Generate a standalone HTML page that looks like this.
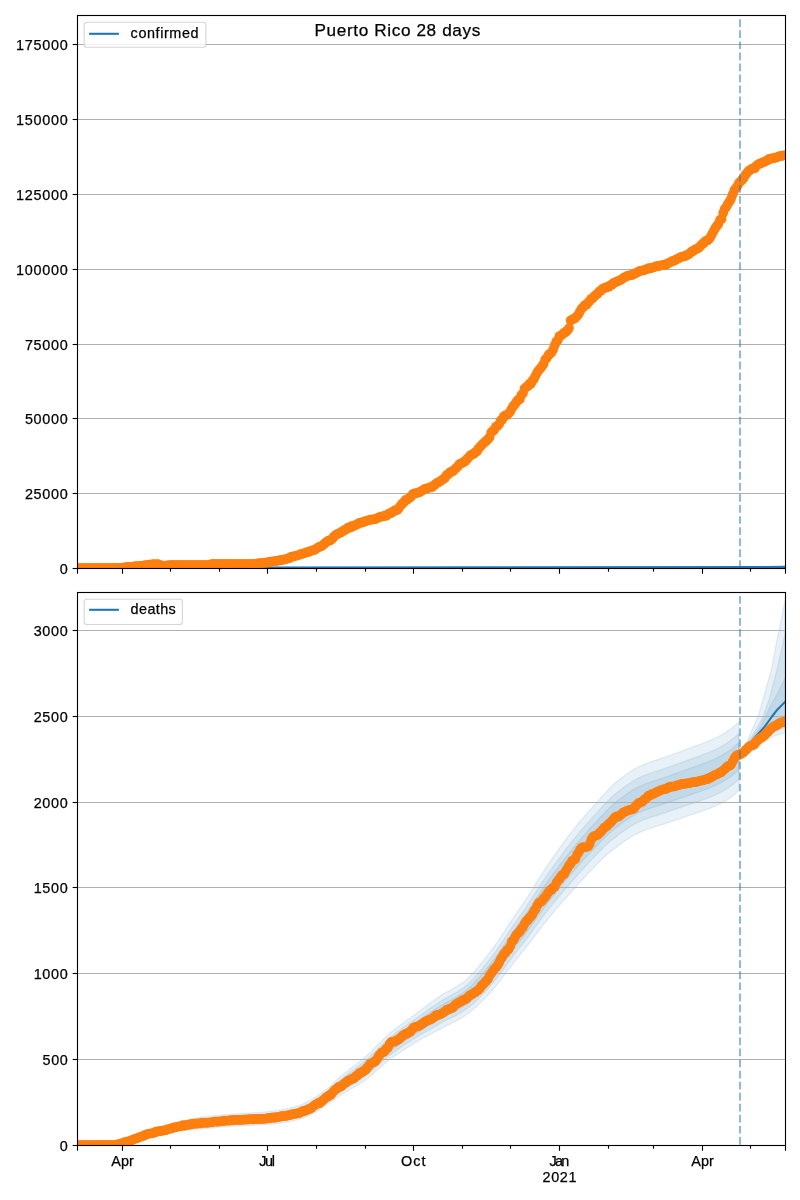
<!DOCTYPE html><html><head><meta charset="utf-8"><title>Puerto Rico 28 days</title><style>html,body{margin:0;padding:0;background:#fff;}body{width:800px;height:1200px;position:relative;overflow:hidden;font-family:"Liberation Sans",sans-serif;}</style></head><body><svg width="800" height="1200" viewBox="0 0 800 1200" style="display:block;position:absolute;left:0;top:0" font-family="Liberation Sans, sans-serif" font-size="14.4" fill="#000">
<defs>
<clipPath id="c1"><rect x="77.5" y="15.5" width="708.0" height="553.0"/></clipPath>
<clipPath id="c2"><rect x="77.5" y="592.5" width="708.0" height="553.0"/></clipPath>
<filter id="gs" x="0" y="0" width="800" height="1200" filterUnits="userSpaceOnUse" color-interpolation-filters="sRGB"><feColorMatrix type="saturate" values="0"/></filter>
</defs>
<rect width="800" height="1200" fill="#fff"/>
<g clip-path="url(#c2)" fill="#1f77b4" fill-opacity="0.1" stroke="#1f77b4" stroke-opacity="0.1" stroke-width="1.39" stroke-linejoin="round"><polygon points="77.5,1144.9 78.5,1144.9 79.5,1144.9 80.5,1144.9 81.5,1144.9 82.5,1144.9 83.5,1144.9 84.5,1144.9 85.5,1144.9 86.5,1144.9 87.5,1144.8 88.5,1144.8 89.5,1144.8 90.5,1144.8 91.5,1144.8 92.5,1144.8 93.5,1144.8 94.5,1144.8 95.5,1144.8 96.5,1144.8 97.5,1144.8 98.5,1144.8 99.5,1144.8 100.5,1144.8 101.5,1144.8 102.5,1144.8 103.5,1144.8 104.5,1144.8 105.5,1144.8 106.5,1144.7 107.5,1144.7 108.5,1144.7 109.5,1144.7 110.5,1144.7 111.5,1144.7 112.5,1144.7 113.5,1144.7 114.5,1144.6 115.5,1144.5 116.5,1144.3 117.5,1144.0 118.5,1143.7 119.5,1143.4 120.5,1143.1 121.5,1142.7 122.5,1142.3 123.5,1142.0 124.5,1141.6 125.5,1141.2 126.5,1140.9 127.5,1140.5 128.5,1140.1 129.5,1139.7 130.5,1139.3 131.5,1138.9 132.5,1138.5 133.5,1138.1 134.5,1137.6 135.5,1137.2 136.5,1136.8 137.5,1136.3 138.5,1135.9 139.5,1135.4 140.5,1135.0 141.5,1134.5 142.5,1134.1 143.5,1133.7 144.5,1133.3 145.5,1132.9 146.5,1132.5 147.5,1132.2 148.5,1131.8 149.5,1131.5 150.5,1131.1 151.5,1130.8 152.5,1130.4 153.5,1130.1 154.5,1129.7 155.5,1129.4 156.5,1129.1 157.5,1128.7 158.5,1128.4 159.5,1128.1 160.5,1127.8 161.5,1127.4 162.5,1127.1 163.5,1126.8 164.5,1126.5 165.5,1126.2 166.5,1125.9 167.5,1125.6 168.5,1125.3 169.5,1125.0 170.5,1124.7 171.5,1124.4 172.5,1124.1 173.5,1123.8 174.5,1123.5 175.5,1123.2 176.5,1122.9 177.5,1122.6 178.5,1122.3 179.5,1122.0 180.5,1121.8 181.5,1121.5 182.5,1121.2 183.5,1121.0 184.5,1120.7 185.5,1120.5 186.5,1120.2 187.5,1120.0 188.5,1119.8 189.5,1119.5 190.5,1119.3 191.5,1119.1 192.5,1118.9 193.5,1118.7 194.5,1118.5 195.5,1118.3 196.5,1118.0 197.5,1117.8 198.5,1117.7 199.5,1117.5 200.5,1117.3 201.5,1117.2 202.5,1117.0 203.5,1116.9 204.5,1116.8 205.5,1116.7 206.5,1116.6 207.5,1116.4 208.5,1116.3 209.5,1116.2 210.5,1116.1 211.5,1116.0 212.5,1115.9 213.5,1115.8 214.5,1115.7 215.5,1115.6 216.5,1115.5 217.5,1115.4 218.5,1115.3 219.5,1115.2 220.5,1115.1 221.5,1115.0 222.5,1114.9 223.5,1114.8 224.5,1114.7 225.5,1114.6 226.5,1114.5 227.5,1114.4 228.5,1114.4 229.5,1114.3 230.5,1114.2 231.5,1114.1 232.5,1114.0 233.5,1114.0 234.5,1113.9 235.5,1113.8 236.5,1113.8 237.5,1113.7 238.5,1113.6 239.5,1113.6 240.5,1113.5 241.5,1113.4 242.5,1113.4 243.5,1113.3 244.5,1113.3 245.5,1113.2 246.5,1113.1 247.5,1113.1 248.5,1113.0 249.5,1113.0 250.5,1112.9 251.5,1112.9 252.5,1112.8 253.5,1112.7 254.5,1112.7 255.5,1112.6 256.5,1112.6 257.5,1112.5 258.5,1112.5 259.5,1112.4 260.5,1112.3 261.5,1112.2 262.5,1112.1 263.5,1112.1 264.5,1112.0 265.5,1111.9 266.5,1111.8 267.5,1111.7 268.5,1111.5 269.5,1111.4 270.5,1111.3 271.5,1111.2 272.5,1111.1 273.5,1110.9 274.5,1110.8 275.5,1110.7 276.5,1110.5 277.5,1110.4 278.5,1110.2 279.5,1110.0 280.5,1109.9 281.5,1109.7 282.5,1109.5 283.5,1109.3 284.5,1109.1 285.5,1108.9 286.5,1108.7 287.5,1108.5 288.5,1108.3 289.5,1108.1 290.5,1107.8 291.5,1107.6 292.5,1107.3 293.5,1107.1 294.5,1106.8 295.5,1106.5 296.5,1106.2 297.5,1105.9 298.5,1105.6 299.5,1105.2 300.5,1104.9 301.5,1104.5 302.5,1104.0 303.5,1103.6 304.5,1103.1 305.5,1102.6 306.5,1102.1 307.5,1101.6 308.5,1101.0 309.5,1100.5 310.5,1099.9 311.5,1099.3 312.5,1098.7 313.5,1098.1 314.5,1097.5 315.5,1096.9 316.5,1096.2 317.5,1095.6 318.5,1094.9 319.5,1094.2 320.5,1093.5 321.5,1092.8 322.5,1092.1 323.5,1091.3 324.5,1090.6 325.5,1089.8 326.5,1089.0 327.5,1088.2 328.5,1087.4 329.5,1086.5 330.5,1085.7 331.5,1084.7 332.5,1083.8 333.5,1082.9 334.5,1082.0 335.5,1081.0 336.5,1080.1 337.5,1079.2 338.5,1078.3 339.5,1077.5 340.5,1076.6 341.5,1075.8 342.5,1074.9 343.5,1074.1 344.5,1073.3 345.5,1072.5 346.5,1071.7 347.5,1071.0 348.5,1070.2 349.5,1069.4 350.5,1068.6 351.5,1067.9 352.5,1067.1 353.5,1066.3 354.5,1065.6 355.5,1064.8 356.5,1064.0 357.5,1063.2 358.5,1062.4 359.5,1061.6 360.5,1060.8 361.5,1060.0 362.5,1059.1 363.5,1058.3 364.5,1057.4 365.5,1056.5 366.5,1055.7 367.5,1054.8 368.5,1053.8 369.5,1052.9 370.5,1052.0 371.5,1051.0 372.5,1050.0 373.5,1049.0 374.5,1048.0 375.5,1047.0 376.5,1046.0 377.5,1045.0 378.5,1044.0 379.5,1043.0 380.5,1042.0 381.5,1041.0 382.5,1040.0 383.5,1039.0 384.5,1038.0 385.5,1037.1 386.5,1036.2 387.5,1035.2 388.5,1034.3 389.5,1033.5 390.5,1032.6 391.5,1031.8 392.5,1031.0 393.5,1030.2 394.5,1029.4 395.5,1028.6 396.5,1027.9 397.5,1027.1 398.5,1026.3 399.5,1025.6 400.5,1024.9 401.5,1024.1 402.5,1023.4 403.5,1022.7 404.5,1021.9 405.5,1021.2 406.5,1020.5 407.5,1019.8 408.5,1019.1 409.5,1018.4 410.5,1017.7 411.5,1017.0 412.5,1016.3 413.5,1015.6 414.5,1014.9 415.5,1014.1 416.5,1013.4 417.5,1012.6 418.5,1011.8 419.5,1011.1 420.5,1010.3 421.5,1009.5 422.5,1008.8 423.5,1008.0 424.5,1007.3 425.5,1006.5 426.5,1005.8 427.5,1005.0 428.5,1004.3 429.5,1003.6 430.5,1002.8 431.5,1002.1 432.5,1001.4 433.5,1000.6 434.5,999.9 435.5,999.2 436.5,998.5 437.5,997.8 438.5,997.1 439.5,996.4 440.5,995.7 441.5,995.1 442.5,994.5 443.5,993.9 444.5,993.3 445.5,992.7 446.5,992.2 447.5,991.6 448.5,991.1 449.5,990.5 450.5,990.0 451.5,989.4 452.5,988.9 453.5,988.3 454.5,987.7 455.5,987.2 456.5,986.6 457.5,986.0 458.5,985.4 459.5,984.7 460.5,984.1 461.5,983.4 462.5,982.7 463.5,982.0 464.5,981.3 465.5,980.5 466.5,979.6 467.5,978.6 468.5,977.7 469.5,976.7 470.5,975.7 471.5,974.6 472.5,973.6 473.5,972.5 474.5,971.3 475.5,970.2 476.5,969.0 477.5,967.9 478.5,966.7 479.5,965.5 480.5,964.2 481.5,963.0 482.5,961.7 483.5,960.5 484.5,959.2 485.5,957.9 486.5,956.6 487.5,955.3 488.5,954.0 489.5,952.7 490.5,951.4 491.5,950.1 492.5,948.8 493.5,947.4 494.5,946.0 495.5,944.6 496.5,943.2 497.5,941.7 498.5,940.2 499.5,938.8 500.5,937.3 501.5,935.8 502.5,934.2 503.5,932.7 504.5,931.2 505.5,929.6 506.5,928.1 507.5,926.6 508.5,925.0 509.5,923.5 510.5,922.0 511.5,920.5 512.5,919.0 513.5,917.5 514.5,916.0 515.5,914.5 516.5,913.1 517.5,911.6 518.5,910.1 519.5,908.7 520.5,907.2 521.5,905.8 522.5,904.3 523.5,902.8 524.5,901.4 525.5,899.9 526.5,898.4 527.5,896.9 528.5,895.3 529.5,893.7 530.5,892.2 531.5,890.6 532.5,889.0 533.5,887.4 534.5,885.7 535.5,884.1 536.5,882.5 537.5,880.9 538.5,879.2 539.5,877.6 540.5,876.0 541.5,874.5 542.5,872.9 543.5,871.3 544.5,869.8 545.5,868.3 546.5,866.8 547.5,865.3 548.5,863.8 549.5,862.4 550.5,860.9 551.5,859.5 552.5,858.0 553.5,856.6 554.5,855.2 555.5,853.7 556.5,852.3 557.5,850.9 558.5,849.5 559.5,848.1 560.5,846.7 561.5,845.3 562.5,844.0 563.5,842.6 564.5,841.2 565.5,839.9 566.5,838.5 567.5,837.2 568.5,835.8 569.5,834.5 570.5,833.2 571.5,831.9 572.5,830.7 573.5,829.4 574.5,828.2 575.5,827.0 576.5,825.7 577.5,824.5 578.5,823.3 579.5,822.1 580.5,820.9 581.5,819.7 582.5,818.5 583.5,817.4 584.5,816.2 585.5,815.0 586.5,813.9 587.5,812.7 588.5,811.6 589.5,810.4 590.5,809.3 591.5,808.2 592.5,807.1 593.5,805.9 594.5,804.8 595.5,803.7 596.5,802.5 597.5,801.4 598.5,800.3 599.5,799.2 600.5,798.1 601.5,797.0 602.5,795.9 603.5,794.8 604.5,793.8 605.5,792.7 606.5,791.7 607.5,790.6 608.5,789.5 609.5,788.5 610.5,787.4 611.5,786.4 612.5,785.4 613.5,784.5 614.5,783.5 615.5,782.6 616.5,781.8 617.5,781.0 618.5,780.2 619.5,779.4 620.5,778.7 621.5,777.9 622.5,777.2 623.5,776.4 624.5,775.7 625.5,775.0 626.5,774.3 627.5,773.6 628.5,772.9 629.5,772.2 630.5,771.6 631.5,770.9 632.5,770.3 633.5,769.7 634.5,769.1 635.5,768.5 636.5,768.0 637.5,767.4 638.5,766.9 639.5,766.4 640.5,766.0 641.5,765.5 642.5,765.1 643.5,764.6 644.5,764.2 645.5,763.8 646.5,763.4 647.5,763.1 648.5,762.7 649.5,762.3 650.5,762.0 651.5,761.6 652.5,761.3 653.5,761.0 654.5,760.6 655.5,760.3 656.5,760.0 657.5,759.6 658.5,759.3 659.5,759.0 660.5,758.6 661.5,758.3 662.5,758.0 663.5,757.6 664.5,757.3 665.5,756.9 666.5,756.5 667.5,756.2 668.5,755.8 669.5,755.5 670.5,755.1 671.5,754.7 672.5,754.4 673.5,754.0 674.5,753.7 675.5,753.3 676.5,752.9 677.5,752.6 678.5,752.2 679.5,751.9 680.5,751.5 681.5,751.1 682.5,750.8 683.5,750.4 684.5,750.0 685.5,749.7 686.5,749.3 687.5,748.9 688.5,748.6 689.5,748.2 690.5,747.8 691.5,747.4 692.5,747.1 693.5,746.7 694.5,746.3 695.5,746.0 696.5,745.6 697.5,745.2 698.5,744.9 699.5,744.5 700.5,744.1 701.5,743.8 702.5,743.4 703.5,743.0 704.5,742.6 705.5,742.2 706.5,741.8 707.5,741.4 708.5,741.0 709.5,740.6 710.5,740.2 711.5,739.8 712.5,739.3 713.5,738.9 714.5,738.4 715.5,737.9 716.5,737.5 717.5,737.0 718.5,736.4 719.5,735.9 720.5,735.4 721.5,734.8 722.5,734.3 723.5,733.7 724.5,733.1 725.5,732.4 726.5,731.8 727.5,731.1 728.5,730.4 729.5,729.7 730.5,729.0 731.5,728.2 732.5,727.4 733.5,726.6 734.5,725.8 735.5,724.9 736.5,723.9 737.5,723.0 739.0,722.0 739.0,790.8 737.5,791.7 736.5,792.6 735.5,793.6 734.5,794.4 733.5,795.2 732.5,796.0 731.5,796.8 730.5,797.5 729.5,798.2 728.5,798.9 727.5,799.6 726.5,800.2 725.5,800.8 724.5,801.4 723.5,802.0 722.5,802.5 721.5,803.1 720.5,803.6 719.5,804.1 718.5,804.6 717.5,805.1 716.5,805.6 715.5,806.0 714.5,806.4 713.5,806.9 712.5,807.3 711.5,807.7 710.5,808.1 709.5,808.5 708.5,808.9 707.5,809.3 706.5,809.6 705.5,810.0 704.5,810.3 703.5,810.7 702.5,811.0 701.5,811.4 700.5,811.7 699.5,812.1 698.5,812.4 697.5,812.7 696.5,813.1 695.5,813.4 694.5,813.7 693.5,814.1 692.5,814.4 691.5,814.8 690.5,815.1 689.5,815.4 688.5,815.8 687.5,816.1 686.5,816.5 685.5,816.8 684.5,817.2 683.5,817.5 682.5,817.8 681.5,818.2 680.5,818.5 679.5,818.9 678.5,819.2 677.5,819.5 676.5,819.9 675.5,820.2 674.5,820.5 673.5,820.9 672.5,821.2 671.5,821.5 670.5,821.9 669.5,822.2 668.5,822.5 667.5,822.9 666.5,823.2 665.5,823.5 664.5,823.9 663.5,824.2 662.5,824.5 661.5,824.8 660.5,825.1 659.5,825.5 658.5,825.8 657.5,826.1 656.5,826.4 655.5,826.7 654.5,827.0 653.5,827.3 652.5,827.6 651.5,827.9 650.5,828.2 649.5,828.6 648.5,828.9 647.5,829.2 646.5,829.6 645.5,829.9 644.5,830.3 643.5,830.7 642.5,831.1 641.5,831.5 640.5,832.0 639.5,832.4 638.5,832.9 637.5,833.4 636.5,833.9 635.5,834.4 634.5,834.9 633.5,835.5 632.5,836.1 631.5,836.7 630.5,837.3 629.5,837.9 628.5,838.5 627.5,839.2 626.5,839.9 625.5,840.6 624.5,841.3 623.5,842.0 622.5,842.7 621.5,843.4 620.5,844.1 619.5,844.9 618.5,845.6 617.5,846.4 616.5,847.2 615.5,848.0 614.5,848.7 613.5,849.4 612.5,850.1 611.5,850.9 610.5,851.7 609.5,852.5 608.5,853.3 607.5,854.1 606.5,855.0 605.5,855.9 604.5,856.9 603.5,857.8 602.5,858.8 601.5,859.8 600.5,860.8 599.5,861.8 598.5,862.8 597.5,863.8 596.5,864.9 595.5,865.9 594.5,866.9 593.5,867.9 592.5,869.0 591.5,870.0 590.5,871.0 589.5,872.1 588.5,873.1 587.5,874.1 586.5,875.2 585.5,876.2 584.5,877.3 583.5,878.4 582.5,879.5 581.5,880.5 580.5,881.6 579.5,882.7 578.5,883.8 577.5,884.9 576.5,886.1 575.5,887.2 574.5,888.3 573.5,889.5 572.5,890.6 571.5,891.7 570.5,892.9 569.5,894.0 568.5,895.1 567.5,896.2 566.5,897.3 565.5,898.4 564.5,899.6 563.5,900.7 562.5,901.8 561.5,903.0 560.5,904.1 559.5,905.2 558.5,906.4 557.5,907.6 556.5,908.7 555.5,909.9 554.5,911.1 553.5,912.3 552.5,913.5 551.5,914.7 550.5,915.9 549.5,917.1 548.5,918.3 547.5,919.5 546.5,920.8 545.5,922.0 544.5,923.3 543.5,924.5 542.5,925.8 541.5,927.1 540.5,928.4 539.5,929.7 538.5,931.1 537.5,932.4 536.5,933.7 535.5,935.1 534.5,936.4 533.5,937.8 532.5,939.1 531.5,940.4 530.5,941.8 529.5,943.1 528.5,944.3 527.5,945.6 526.5,946.9 525.5,948.2 524.5,949.4 523.5,950.6 522.5,951.9 521.5,953.1 520.5,954.3 519.5,955.6 518.5,956.8 517.5,958.0 516.5,959.2 515.5,960.5 514.5,961.7 513.5,963.0 512.5,964.3 511.5,965.6 510.5,966.9 509.5,968.3 508.5,969.6 507.5,970.9 506.5,972.3 505.5,973.6 504.5,975.0 503.5,976.3 502.5,977.6 501.5,978.9 500.5,980.3 499.5,981.6 498.5,982.9 497.5,984.1 496.5,985.4 495.5,986.6 494.5,987.8 493.5,989.0 492.5,990.2 491.5,991.3 490.5,992.5 489.5,993.6 488.5,994.6 487.5,995.7 486.5,996.7 485.5,997.8 484.5,998.8 483.5,999.8 482.5,1000.8 481.5,1001.8 480.5,1002.8 479.5,1003.8 478.5,1004.8 477.5,1005.7 476.5,1006.6 475.5,1007.5 474.5,1008.4 473.5,1009.3 472.5,1010.1 471.5,1011.0 470.5,1011.8 469.5,1012.5 468.5,1013.3 467.5,1014.0 466.5,1014.6 465.5,1015.3 464.5,1015.9 463.5,1016.6 462.5,1017.3 461.5,1017.9 460.5,1018.5 459.5,1019.1 458.5,1019.7 457.5,1020.2 456.5,1020.8 455.5,1021.3 454.5,1021.8 453.5,1022.3 452.5,1022.8 451.5,1023.3 450.5,1023.8 449.5,1024.3 448.5,1024.8 447.5,1025.2 446.5,1025.7 445.5,1026.2 444.5,1026.7 443.5,1027.3 442.5,1027.8 441.5,1028.3 440.5,1028.9 439.5,1029.4 438.5,1029.9 437.5,1030.4 436.5,1031.0 435.5,1031.5 434.5,1032.0 433.5,1032.5 432.5,1033.1 431.5,1033.6 430.5,1034.1 429.5,1034.7 428.5,1035.2 427.5,1035.8 426.5,1036.3 425.5,1036.9 424.5,1037.4 423.5,1038.0 422.5,1038.5 421.5,1039.1 420.5,1039.7 419.5,1040.2 418.5,1040.8 417.5,1041.3 416.5,1041.9 415.5,1042.5 414.5,1043.1 413.5,1043.7 412.5,1044.3 411.5,1045.0 410.5,1045.6 409.5,1046.2 408.5,1046.9 407.5,1047.5 406.5,1048.1 405.5,1048.8 404.5,1049.4 403.5,1050.0 402.5,1050.7 401.5,1051.3 400.5,1052.0 399.5,1052.7 398.5,1053.3 397.5,1054.0 396.5,1054.7 395.5,1055.4 394.5,1056.1 393.5,1056.8 392.5,1057.5 391.5,1058.2 390.5,1059.0 389.5,1059.7 388.5,1060.5 387.5,1061.3 386.5,1062.1 385.5,1062.9 384.5,1063.7 383.5,1064.6 382.5,1065.4 381.5,1066.3 380.5,1067.2 379.5,1068.1 378.5,1069.0 377.5,1069.9 376.5,1070.8 375.5,1071.6 374.5,1072.5 373.5,1073.4 372.5,1074.3 371.5,1075.2 370.5,1076.0 369.5,1076.8 368.5,1077.7 367.5,1078.5 366.5,1079.2 365.5,1080.0 364.5,1080.7 363.5,1081.4 362.5,1082.0 361.5,1082.7 360.5,1083.3 359.5,1084.0 358.5,1084.6 357.5,1085.2 356.5,1085.8 355.5,1086.3 354.5,1086.9 353.5,1087.5 352.5,1088.1 351.5,1088.6 350.5,1089.2 349.5,1089.8 348.5,1090.4 347.5,1090.9 346.5,1091.5 345.5,1092.1 344.5,1092.7 343.5,1093.3 342.5,1094.0 341.5,1094.6 340.5,1095.2 339.5,1095.9 338.5,1096.6 337.5,1097.3 336.5,1098.0 335.5,1098.7 334.5,1099.4 333.5,1100.2 332.5,1100.9 331.5,1101.6 330.5,1102.3 329.5,1103.1 328.5,1103.8 327.5,1104.6 326.5,1105.3 325.5,1106.0 324.5,1106.7 323.5,1107.3 322.5,1108.0 321.5,1108.6 320.5,1109.3 319.5,1109.9 318.5,1110.5 317.5,1111.1 316.5,1111.7 315.5,1112.2 314.5,1112.8 313.5,1113.3 312.5,1113.8 311.5,1114.3 310.5,1114.8 309.5,1115.3 308.5,1115.8 307.5,1116.2 306.5,1116.7 305.5,1117.1 304.5,1117.5 303.5,1117.9 302.5,1118.3 301.5,1118.6 300.5,1118.9 299.5,1119.3 298.5,1119.6 297.5,1119.9 296.5,1120.1 295.5,1120.4 294.5,1120.6 293.5,1120.9 292.5,1121.1 291.5,1121.3 290.5,1121.5 289.5,1121.7 288.5,1121.9 287.5,1122.1 286.5,1122.3 285.5,1122.5 284.5,1122.6 283.5,1122.8 282.5,1123.0 281.5,1123.1 280.5,1123.2 279.5,1123.4 278.5,1123.5 277.5,1123.6 276.5,1123.7 275.5,1123.9 274.5,1124.0 273.5,1124.1 272.5,1124.2 271.5,1124.3 270.5,1124.3 269.5,1124.4 268.5,1124.5 267.5,1124.6 266.5,1124.7 265.5,1124.7 264.5,1124.8 263.5,1124.9 262.5,1124.9 261.5,1125.0 260.5,1125.0 259.5,1125.1 258.5,1125.1 257.5,1125.1 256.5,1125.2 255.5,1125.2 254.5,1125.3 253.5,1125.3 252.5,1125.4 251.5,1125.4 250.5,1125.4 249.5,1125.5 248.5,1125.5 247.5,1125.6 246.5,1125.6 245.5,1125.6 244.5,1125.7 243.5,1125.7 242.5,1125.8 241.5,1125.8 240.5,1125.9 239.5,1125.9 238.5,1126.0 237.5,1126.0 236.5,1126.0 235.5,1126.1 234.5,1126.2 233.5,1126.2 232.5,1126.3 231.5,1126.3 230.5,1126.4 229.5,1126.5 228.5,1126.5 227.5,1126.6 226.5,1126.7 225.5,1126.7 224.5,1126.8 223.5,1126.9 222.5,1127.0 221.5,1127.0 220.5,1127.1 219.5,1127.2 218.5,1127.3 217.5,1127.4 216.5,1127.4 215.5,1127.5 214.5,1127.6 213.5,1127.7 212.5,1127.8 211.5,1127.9 210.5,1128.0 209.5,1128.1 208.5,1128.2 207.5,1128.3 206.5,1128.4 205.5,1128.5 204.5,1128.6 203.5,1128.7 202.5,1128.8 201.5,1128.9 200.5,1129.0 199.5,1129.1 198.5,1129.1 197.5,1129.2 196.5,1129.3 195.5,1129.3 194.5,1129.4 193.5,1129.5 192.5,1129.6 191.5,1129.6 190.5,1129.7 189.5,1129.8 188.5,1129.9 187.5,1130.0 186.5,1130.1 185.5,1130.2 184.5,1130.3 183.5,1130.4 182.5,1130.5 181.5,1130.7 180.5,1130.8 179.5,1130.9 178.5,1131.1 177.5,1131.2 176.5,1131.4 175.5,1131.6 174.5,1131.7 173.5,1131.9 172.5,1132.0 171.5,1132.2 170.5,1132.4 169.5,1132.5 168.5,1132.7 167.5,1132.9 166.5,1133.0 165.5,1133.2 164.5,1133.4 163.5,1133.5 162.5,1133.7 161.5,1133.9 160.5,1134.1 159.5,1134.3 158.5,1134.4 157.5,1134.6 156.5,1134.8 155.5,1135.0 154.5,1135.2 153.5,1135.4 152.5,1135.6 151.5,1135.8 150.5,1136.1 149.5,1136.3 148.5,1136.5 147.5,1136.8 146.5,1137.0 145.5,1137.3 144.5,1137.6 143.5,1137.9 142.5,1138.2 141.5,1138.5 140.5,1138.8 139.5,1139.1 138.5,1139.5 137.5,1139.8 136.5,1140.1 135.5,1140.5 134.5,1140.8 133.5,1141.1 132.5,1141.4 131.5,1141.7 130.5,1142.0 129.5,1142.3 128.5,1142.6 127.5,1142.9 126.5,1143.1 125.5,1143.4 124.5,1143.7 123.5,1143.9 122.5,1144.2 121.5,1144.4 120.5,1144.6 119.5,1144.9 118.5,1145.1 117.5,1145.3 116.5,1145.4 115.5,1145.5 114.5,1145.6 113.5,1145.6 112.5,1145.7 111.5,1145.7 110.5,1145.7 109.5,1145.6 108.5,1145.6 107.5,1145.6 106.5,1145.6 105.5,1145.6 104.5,1145.6 103.5,1145.6 102.5,1145.6 101.5,1145.6 100.5,1145.6 99.5,1145.6 98.5,1145.6 97.5,1145.6 96.5,1145.6 95.5,1145.6 94.5,1145.6 93.5,1145.6 92.5,1145.6 91.5,1145.6 90.5,1145.6 89.5,1145.5 88.5,1145.5 87.5,1145.5 86.5,1145.5 85.5,1145.5 84.5,1145.5 83.5,1145.5 82.5,1145.5 81.5,1145.5 80.5,1145.5 79.5,1145.5 78.5,1145.5 77.5,1145.5"/><polygon points="77.5,1145.0 78.5,1145.0 79.5,1145.0 80.5,1145.0 81.5,1145.0 82.5,1145.0 83.5,1145.0 84.5,1145.0 85.5,1145.0 86.5,1145.0 87.5,1145.0 88.5,1145.0 89.5,1145.0 90.5,1145.0 91.5,1144.9 92.5,1144.9 93.5,1144.9 94.5,1144.9 95.5,1144.9 96.5,1144.9 97.5,1144.9 98.5,1144.9 99.5,1144.9 100.5,1144.9 101.5,1144.9 102.5,1144.9 103.5,1144.9 104.5,1144.9 105.5,1144.9 106.5,1144.9 107.5,1144.9 108.5,1144.9 109.5,1144.9 110.5,1144.9 111.5,1144.9 112.5,1144.9 113.5,1144.8 114.5,1144.8 115.5,1144.6 116.5,1144.5 117.5,1144.2 118.5,1144.0 119.5,1143.7 120.5,1143.3 121.5,1143.0 122.5,1142.7 123.5,1142.3 124.5,1142.0 125.5,1141.6 126.5,1141.3 127.5,1140.9 128.5,1140.5 129.5,1140.1 130.5,1139.8 131.5,1139.4 132.5,1139.0 133.5,1138.6 134.5,1138.2 135.5,1137.8 136.5,1137.3 137.5,1136.9 138.5,1136.5 139.5,1136.1 140.5,1135.6 141.5,1135.2 142.5,1134.8 143.5,1134.4 144.5,1134.0 145.5,1133.7 146.5,1133.3 147.5,1133.0 148.5,1132.6 149.5,1132.3 150.5,1132.0 151.5,1131.6 152.5,1131.3 153.5,1131.0 154.5,1130.7 155.5,1130.3 156.5,1130.0 157.5,1129.7 158.5,1129.4 159.5,1129.1 160.5,1128.8 161.5,1128.5 162.5,1128.2 163.5,1128.0 164.5,1127.7 165.5,1127.4 166.5,1127.1 167.5,1126.8 168.5,1126.6 169.5,1126.3 170.5,1126.0 171.5,1125.7 172.5,1125.4 173.5,1125.2 174.5,1124.9 175.5,1124.6 176.5,1124.3 177.5,1124.1 178.5,1123.8 179.5,1123.5 180.5,1123.3 181.5,1123.1 182.5,1122.8 183.5,1122.6 184.5,1122.4 185.5,1122.1 186.5,1121.9 187.5,1121.7 188.5,1121.5 189.5,1121.3 190.5,1121.1 191.5,1120.9 192.5,1120.7 193.5,1120.5 194.5,1120.3 195.5,1120.1 196.5,1119.9 197.5,1119.8 198.5,1119.6 199.5,1119.4 200.5,1119.3 201.5,1119.1 202.5,1119.0 203.5,1118.9 204.5,1118.8 205.5,1118.7 206.5,1118.6 207.5,1118.4 208.5,1118.3 209.5,1118.2 210.5,1118.1 211.5,1118.0 212.5,1117.9 213.5,1117.8 214.5,1117.7 215.5,1117.6 216.5,1117.5 217.5,1117.4 218.5,1117.3 219.5,1117.2 220.5,1117.1 221.5,1117.0 222.5,1116.9 223.5,1116.8 224.5,1116.8 225.5,1116.7 226.5,1116.6 227.5,1116.5 228.5,1116.4 229.5,1116.3 230.5,1116.3 231.5,1116.2 232.5,1116.1 233.5,1116.0 234.5,1116.0 235.5,1115.9 236.5,1115.8 237.5,1115.8 238.5,1115.7 239.5,1115.7 240.5,1115.6 241.5,1115.5 242.5,1115.5 243.5,1115.4 244.5,1115.4 245.5,1115.3 246.5,1115.2 247.5,1115.2 248.5,1115.1 249.5,1115.1 250.5,1115.0 251.5,1115.0 252.5,1114.9 253.5,1114.9 254.5,1114.8 255.5,1114.8 256.5,1114.7 257.5,1114.7 258.5,1114.6 259.5,1114.5 260.5,1114.5 261.5,1114.4 262.5,1114.3 263.5,1114.2 264.5,1114.1 265.5,1114.0 266.5,1113.9 267.5,1113.8 268.5,1113.7 269.5,1113.6 270.5,1113.5 271.5,1113.4 272.5,1113.3 273.5,1113.2 274.5,1113.0 275.5,1112.9 276.5,1112.8 277.5,1112.6 278.5,1112.5 279.5,1112.3 280.5,1112.1 281.5,1112.0 282.5,1111.8 283.5,1111.6 284.5,1111.4 285.5,1111.2 286.5,1111.0 287.5,1110.8 288.5,1110.6 289.5,1110.4 290.5,1110.1 291.5,1109.9 292.5,1109.7 293.5,1109.4 294.5,1109.1 295.5,1108.9 296.5,1108.6 297.5,1108.3 298.5,1107.9 299.5,1107.6 300.5,1107.2 301.5,1106.9 302.5,1106.4 303.5,1106.0 304.5,1105.5 305.5,1105.1 306.5,1104.6 307.5,1104.0 308.5,1103.5 309.5,1103.0 310.5,1102.4 311.5,1101.9 312.5,1101.3 313.5,1100.7 314.5,1100.1 315.5,1099.5 316.5,1098.9 317.5,1098.2 318.5,1097.5 319.5,1096.9 320.5,1096.2 321.5,1095.5 322.5,1094.8 323.5,1094.0 324.5,1093.3 325.5,1092.5 326.5,1091.8 327.5,1091.0 328.5,1090.2 329.5,1089.3 330.5,1088.5 331.5,1087.6 332.5,1086.7 333.5,1085.8 334.5,1084.9 335.5,1084.0 336.5,1083.1 337.5,1082.3 338.5,1081.4 339.5,1080.6 340.5,1079.8 341.5,1079.0 342.5,1078.2 343.5,1077.4 344.5,1076.6 345.5,1075.8 346.5,1075.1 347.5,1074.3 348.5,1073.6 349.5,1072.9 350.5,1072.1 351.5,1071.4 352.5,1070.7 353.5,1069.9 354.5,1069.2 355.5,1068.4 356.5,1067.7 357.5,1066.9 358.5,1066.2 359.5,1065.4 360.5,1064.6 361.5,1063.8 362.5,1063.0 363.5,1062.2 364.5,1061.3 365.5,1060.5 366.5,1059.6 367.5,1058.8 368.5,1057.9 369.5,1057.0 370.5,1056.0 371.5,1055.1 372.5,1054.1 373.5,1053.2 374.5,1052.2 375.5,1051.2 376.5,1050.2 377.5,1049.2 378.5,1048.2 379.5,1047.2 380.5,1046.2 381.5,1045.3 382.5,1044.3 383.5,1043.3 384.5,1042.4 385.5,1041.5 386.5,1040.5 387.5,1039.6 388.5,1038.8 389.5,1037.9 390.5,1037.1 391.5,1036.3 392.5,1035.5 393.5,1034.7 394.5,1033.9 395.5,1033.2 396.5,1032.4 397.5,1031.6 398.5,1030.9 399.5,1030.2 400.5,1029.4 401.5,1028.7 402.5,1028.0 403.5,1027.3 404.5,1026.6 405.5,1025.9 406.5,1025.2 407.5,1024.5 408.5,1023.8 409.5,1023.1 410.5,1022.4 411.5,1021.7 412.5,1021.0 413.5,1020.3 414.5,1019.6 415.5,1018.9 416.5,1018.2 417.5,1017.5 418.5,1016.7 419.5,1016.0 420.5,1015.3 421.5,1014.5 422.5,1013.8 423.5,1013.1 424.5,1012.4 425.5,1011.7 426.5,1011.0 427.5,1010.2 428.5,1009.5 429.5,1008.8 430.5,1008.1 431.5,1007.4 432.5,1006.7 433.5,1006.0 434.5,1005.4 435.5,1004.7 436.5,1004.0 437.5,1003.3 438.5,1002.6 439.5,1002.0 440.5,1001.3 441.5,1000.7 442.5,1000.1 443.5,999.5 444.5,999.0 445.5,998.4 446.5,997.9 447.5,997.3 448.5,996.8 449.5,996.2 450.5,995.7 451.5,995.2 452.5,994.6 453.5,994.1 454.5,993.5 455.5,992.9 456.5,992.4 457.5,991.8 458.5,991.2 459.5,990.6 460.5,989.9 461.5,989.3 462.5,988.6 463.5,987.9 464.5,987.1 465.5,986.3 466.5,985.5 467.5,984.6 468.5,983.7 469.5,982.7 470.5,981.8 471.5,980.8 472.5,979.7 473.5,978.7 474.5,977.6 475.5,976.5 476.5,975.4 477.5,974.3 478.5,973.1 479.5,971.9 480.5,970.8 481.5,969.6 482.5,968.4 483.5,967.1 484.5,965.9 485.5,964.7 486.5,963.4 487.5,962.2 488.5,960.9 489.5,959.6 490.5,958.4 491.5,957.1 492.5,955.8 493.5,954.4 494.5,953.1 495.5,951.7 496.5,950.3 497.5,948.9 498.5,947.5 499.5,946.0 500.5,944.5 501.5,943.1 502.5,941.6 503.5,940.1 504.5,938.6 505.5,937.1 506.5,935.6 507.5,934.1 508.5,932.6 509.5,931.1 510.5,929.6 511.5,928.1 512.5,926.6 513.5,925.2 514.5,923.7 515.5,922.3 516.5,920.9 517.5,919.4 518.5,918.0 519.5,916.6 520.5,915.2 521.5,913.8 522.5,912.4 523.5,910.9 524.5,909.5 525.5,908.0 526.5,906.6 527.5,905.1 528.5,903.6 529.5,902.1 530.5,900.6 531.5,899.0 532.5,897.5 533.5,895.9 534.5,894.3 535.5,892.7 536.5,891.2 537.5,889.6 538.5,888.0 539.5,886.5 540.5,884.9 541.5,883.4 542.5,881.8 543.5,880.3 544.5,878.8 545.5,877.4 546.5,875.9 547.5,874.5 548.5,873.1 549.5,871.6 550.5,870.2 551.5,868.8 552.5,867.4 553.5,866.0 554.5,864.6 555.5,863.2 556.5,861.9 557.5,860.5 558.5,859.1 559.5,857.8 560.5,856.4 561.5,855.1 562.5,853.8 563.5,852.4 564.5,851.1 565.5,849.8 566.5,848.5 567.5,847.2 568.5,845.9 569.5,844.6 570.5,843.3 571.5,842.1 572.5,840.8 573.5,839.6 574.5,838.4 575.5,837.2 576.5,836.0 577.5,834.7 578.5,833.6 579.5,832.4 580.5,831.2 581.5,830.0 582.5,828.8 583.5,827.7 584.5,826.5 585.5,825.4 586.5,824.2 587.5,823.1 588.5,822.0 589.5,820.9 590.5,819.8 591.5,818.6 592.5,817.5 593.5,816.4 594.5,815.3 595.5,814.2 596.5,813.1 597.5,812.0 598.5,810.9 599.5,809.8 600.5,808.7 601.5,807.6 602.5,806.5 603.5,805.5 604.5,804.4 605.5,803.4 606.5,802.4 607.5,801.4 608.5,800.3 609.5,799.3 610.5,798.3 611.5,797.3 612.5,796.4 613.5,795.4 614.5,794.5 615.5,793.7 616.5,792.9 617.5,792.1 618.5,791.3 619.5,790.5 620.5,789.8 621.5,789.0 622.5,788.2 623.5,787.5 624.5,786.8 625.5,786.1 626.5,785.4 627.5,784.7 628.5,784.0 629.5,783.3 630.5,782.7 631.5,782.0 632.5,781.4 633.5,780.8 634.5,780.2 635.5,779.7 636.5,779.1 637.5,778.6 638.5,778.1 639.5,777.6 640.5,777.1 641.5,776.7 642.5,776.2 643.5,775.8 644.5,775.4 645.5,775.0 646.5,774.6 647.5,774.3 648.5,773.9 649.5,773.5 650.5,773.2 651.5,772.9 652.5,772.5 653.5,772.2 654.5,771.9 655.5,771.5 656.5,771.2 657.5,770.9 658.5,770.6 659.5,770.2 660.5,769.9 661.5,769.6 662.5,769.2 663.5,768.9 664.5,768.5 665.5,768.2 666.5,767.8 667.5,767.5 668.5,767.1 669.5,766.8 670.5,766.4 671.5,766.0 672.5,765.7 673.5,765.3 674.5,765.0 675.5,764.6 676.5,764.3 677.5,763.9 678.5,763.6 679.5,763.2 680.5,762.8 681.5,762.5 682.5,762.1 683.5,761.8 684.5,761.4 685.5,761.0 686.5,760.7 687.5,760.3 688.5,759.9 689.5,759.6 690.5,759.2 691.5,758.8 692.5,758.5 693.5,758.1 694.5,757.7 695.5,757.4 696.5,757.0 697.5,756.7 698.5,756.3 699.5,755.9 700.5,755.6 701.5,755.2 702.5,754.8 703.5,754.5 704.5,754.1 705.5,753.7 706.5,753.3 707.5,752.9 708.5,752.5 709.5,752.1 710.5,751.7 711.5,751.3 712.5,750.8 713.5,750.4 714.5,749.9 715.5,749.5 716.5,749.0 717.5,748.5 718.5,748.0 719.5,747.5 720.5,746.9 721.5,746.4 722.5,745.8 723.5,745.2 724.5,744.6 725.5,744.0 726.5,743.4 727.5,742.7 728.5,742.0 729.5,741.3 730.5,740.6 731.5,739.8 732.5,739.0 733.5,738.2 734.5,737.4 735.5,736.5 736.5,735.6 737.5,734.6 739.0,733.7 739.0,779.5 737.5,780.4 736.5,781.4 735.5,782.3 734.5,783.2 733.5,784.0 732.5,784.7 731.5,785.5 730.5,786.3 729.5,787.0 728.5,787.7 727.5,788.4 726.5,789.0 725.5,789.6 724.5,790.2 723.5,790.8 722.5,791.3 721.5,791.9 720.5,792.4 719.5,792.9 718.5,793.4 717.5,793.9 716.5,794.4 715.5,794.8 714.5,795.3 713.5,795.7 712.5,796.1 711.5,796.6 710.5,797.0 709.5,797.4 708.5,797.7 707.5,798.1 706.5,798.5 705.5,798.9 704.5,799.2 703.5,799.6 702.5,799.9 701.5,800.3 700.5,800.6 699.5,801.0 698.5,801.3 697.5,801.7 696.5,802.0 695.5,802.3 694.5,802.7 693.5,803.0 692.5,803.4 691.5,803.7 690.5,804.1 689.5,804.4 688.5,804.8 687.5,805.1 686.5,805.5 685.5,805.8 684.5,806.2 683.5,806.5 682.5,806.8 681.5,807.2 680.5,807.5 679.5,807.9 678.5,808.2 677.5,808.5 676.5,808.9 675.5,809.2 674.5,809.6 673.5,809.9 672.5,810.2 671.5,810.6 670.5,810.9 669.5,811.2 668.5,811.6 667.5,811.9 666.5,812.3 665.5,812.6 664.5,812.9 663.5,813.3 662.5,813.6 661.5,813.9 660.5,814.2 659.5,814.5 658.5,814.9 657.5,815.2 656.5,815.5 655.5,815.8 654.5,816.1 653.5,816.4 652.5,816.7 651.5,817.0 650.5,817.4 649.5,817.7 648.5,818.0 647.5,818.4 646.5,818.7 645.5,819.1 644.5,819.5 643.5,819.9 642.5,820.3 641.5,820.7 640.5,821.1 639.5,821.6 638.5,822.1 637.5,822.5 636.5,823.1 635.5,823.6 634.5,824.1 633.5,824.7 632.5,825.3 631.5,825.9 630.5,826.5 629.5,827.1 628.5,827.8 627.5,828.4 626.5,829.1 625.5,829.8 624.5,830.5 623.5,831.2 622.5,831.9 621.5,832.7 620.5,833.4 619.5,834.1 618.5,834.9 617.5,835.7 616.5,836.4 615.5,837.2 614.5,838.0 613.5,838.8 612.5,839.5 611.5,840.3 610.5,841.1 609.5,842.0 608.5,842.8 607.5,843.7 606.5,844.6 605.5,845.6 604.5,846.5 603.5,847.5 602.5,848.5 601.5,849.5 600.5,850.5 599.5,851.5 598.5,852.6 597.5,853.6 596.5,854.6 595.5,855.7 594.5,856.7 593.5,857.8 592.5,858.8 591.5,859.9 590.5,860.9 589.5,862.0 588.5,863.0 587.5,864.1 586.5,865.1 585.5,866.2 584.5,867.3 583.5,868.4 582.5,869.5 581.5,870.6 580.5,871.7 579.5,872.8 578.5,873.9 577.5,875.0 576.5,876.2 575.5,877.3 574.5,878.5 573.5,879.6 572.5,880.8 571.5,881.9 570.5,883.1 569.5,884.3 568.5,885.4 567.5,886.5 566.5,887.7 565.5,888.8 564.5,890.0 563.5,891.2 562.5,892.3 561.5,893.5 560.5,894.7 559.5,895.9 558.5,897.1 557.5,898.3 556.5,899.5 555.5,900.7 554.5,901.9 553.5,903.1 552.5,904.4 551.5,905.6 550.5,906.9 549.5,908.1 548.5,909.4 547.5,910.6 546.5,911.9 545.5,913.2 544.5,914.5 543.5,915.8 542.5,917.1 541.5,918.5 540.5,919.8 539.5,921.2 538.5,922.6 537.5,923.9 536.5,925.3 535.5,926.7 534.5,928.1 533.5,929.5 532.5,930.9 531.5,932.3 530.5,933.6 529.5,935.0 528.5,936.3 527.5,937.6 526.5,938.9 525.5,940.2 524.5,941.5 523.5,942.8 522.5,944.1 521.5,945.3 520.5,946.6 519.5,947.9 518.5,949.1 517.5,950.4 516.5,951.7 515.5,952.9 514.5,954.2 513.5,955.5 512.5,956.9 511.5,958.2 510.5,959.6 509.5,960.9 508.5,962.3 507.5,963.7 506.5,965.0 505.5,966.4 504.5,967.8 503.5,969.1 502.5,970.5 501.5,971.9 500.5,973.2 499.5,974.5 498.5,975.9 497.5,977.2 496.5,978.5 495.5,979.7 494.5,981.0 493.5,982.2 492.5,983.4 491.5,984.6 490.5,985.7 489.5,986.9 488.5,988.0 487.5,989.1 486.5,990.1 485.5,991.2 484.5,992.3 483.5,993.4 482.5,994.4 481.5,995.5 480.5,996.5 479.5,997.5 478.5,998.5 477.5,999.5 476.5,1000.5 475.5,1001.4 474.5,1002.3 473.5,1003.3 472.5,1004.1 471.5,1005.0 470.5,1005.8 469.5,1006.6 468.5,1007.4 467.5,1008.2 466.5,1008.9 465.5,1009.6 464.5,1010.3 463.5,1010.9 462.5,1011.6 461.5,1012.3 460.5,1012.9 459.5,1013.5 458.5,1014.0 457.5,1014.6 456.5,1015.2 455.5,1015.7 454.5,1016.2 453.5,1016.7 452.5,1017.2 451.5,1017.7 450.5,1018.2 449.5,1018.7 448.5,1019.2 447.5,1019.7 446.5,1020.2 445.5,1020.7 444.5,1021.3 443.5,1021.8 442.5,1022.3 441.5,1022.9 440.5,1023.4 439.5,1024.0 438.5,1024.5 437.5,1025.1 436.5,1025.6 435.5,1026.2 434.5,1026.7 433.5,1027.3 432.5,1027.9 431.5,1028.4 430.5,1029.0 429.5,1029.6 428.5,1030.1 427.5,1030.7 426.5,1031.3 425.5,1031.9 424.5,1032.5 423.5,1033.1 422.5,1033.6 421.5,1034.2 420.5,1034.8 419.5,1035.4 418.5,1036.0 417.5,1036.6 416.5,1037.2 415.5,1037.8 414.5,1038.5 413.5,1039.1 412.5,1039.7 411.5,1040.4 410.5,1041.0 409.5,1041.7 408.5,1042.3 407.5,1042.9 406.5,1043.6 405.5,1044.2 404.5,1044.9 403.5,1045.5 402.5,1046.2 401.5,1046.9 400.5,1047.5 399.5,1048.2 398.5,1048.9 397.5,1049.6 396.5,1050.3 395.5,1051.0 394.5,1051.7 393.5,1052.4 392.5,1053.2 391.5,1053.9 390.5,1054.7 389.5,1055.4 388.5,1056.2 387.5,1057.0 386.5,1057.8 385.5,1058.7 384.5,1059.5 383.5,1060.4 382.5,1061.3 381.5,1062.1 380.5,1063.0 379.5,1064.0 378.5,1064.9 377.5,1065.8 376.5,1066.7 375.5,1067.6 374.5,1068.5 373.5,1069.4 372.5,1070.3 371.5,1071.2 370.5,1072.1 369.5,1072.9 368.5,1073.7 367.5,1074.6 366.5,1075.4 365.5,1076.1 364.5,1076.9 363.5,1077.6 362.5,1078.3 361.5,1079.0 360.5,1079.6 359.5,1080.3 358.5,1080.9 357.5,1081.6 356.5,1082.2 355.5,1082.8 354.5,1083.4 353.5,1084.0 352.5,1084.6 351.5,1085.2 350.5,1085.8 349.5,1086.4 348.5,1087.1 347.5,1087.7 346.5,1088.3 345.5,1088.9 344.5,1089.5 343.5,1090.2 342.5,1090.8 341.5,1091.5 340.5,1092.2 339.5,1092.9 338.5,1093.6 337.5,1094.3 336.5,1095.0 335.5,1095.8 334.5,1096.6 333.5,1097.3 332.5,1098.1 331.5,1098.8 330.5,1099.6 329.5,1100.4 328.5,1101.1 327.5,1101.9 326.5,1102.6 325.5,1103.3 324.5,1104.0 323.5,1104.7 322.5,1105.4 321.5,1106.0 320.5,1106.7 319.5,1107.3 318.5,1107.9 317.5,1108.5 316.5,1109.1 315.5,1109.7 314.5,1110.3 313.5,1110.8 312.5,1111.4 311.5,1111.9 310.5,1112.4 309.5,1112.9 308.5,1113.4 307.5,1113.8 306.5,1114.3 305.5,1114.7 304.5,1115.2 303.5,1115.6 302.5,1115.9 301.5,1116.3 300.5,1116.6 299.5,1117.0 298.5,1117.3 297.5,1117.6 296.5,1117.8 295.5,1118.1 294.5,1118.4 293.5,1118.6 292.5,1118.8 291.5,1119.1 290.5,1119.3 289.5,1119.5 288.5,1119.7 287.5,1119.9 286.5,1120.1 285.5,1120.2 284.5,1120.4 283.5,1120.6 282.5,1120.7 281.5,1120.9 280.5,1121.0 279.5,1121.2 278.5,1121.3 277.5,1121.5 276.5,1121.6 275.5,1121.7 274.5,1121.8 273.5,1121.9 272.5,1122.0 271.5,1122.1 270.5,1122.2 269.5,1122.3 268.5,1122.4 267.5,1122.5 266.5,1122.5 265.5,1122.6 264.5,1122.7 263.5,1122.8 262.5,1122.8 261.5,1122.9 260.5,1122.9 259.5,1123.0 258.5,1123.0 257.5,1123.1 256.5,1123.1 255.5,1123.2 254.5,1123.2 253.5,1123.3 252.5,1123.3 251.5,1123.3 250.5,1123.4 249.5,1123.4 248.5,1123.5 247.5,1123.5 246.5,1123.5 245.5,1123.6 244.5,1123.6 243.5,1123.7 242.5,1123.7 241.5,1123.8 240.5,1123.8 239.5,1123.9 238.5,1123.9 237.5,1124.0 236.5,1124.0 235.5,1124.1 234.5,1124.1 233.5,1124.2 232.5,1124.3 231.5,1124.3 230.5,1124.4 229.5,1124.5 228.5,1124.5 227.5,1124.6 226.5,1124.7 225.5,1124.7 224.5,1124.8 223.5,1124.9 222.5,1125.0 221.5,1125.1 220.5,1125.1 219.5,1125.2 218.5,1125.3 217.5,1125.4 216.5,1125.5 215.5,1125.6 214.5,1125.7 213.5,1125.7 212.5,1125.8 211.5,1125.9 210.5,1126.0 209.5,1126.1 208.5,1126.2 207.5,1126.3 206.5,1126.4 205.5,1126.5 204.5,1126.6 203.5,1126.7 202.5,1126.9 201.5,1127.0 200.5,1127.1 199.5,1127.2 198.5,1127.3 197.5,1127.3 196.5,1127.4 195.5,1127.5 194.5,1127.6 193.5,1127.7 192.5,1127.8 191.5,1127.9 190.5,1128.0 189.5,1128.1 188.5,1128.2 187.5,1128.4 186.5,1128.5 185.5,1128.6 184.5,1128.7 183.5,1128.9 182.5,1129.0 181.5,1129.2 180.5,1129.3 179.5,1129.5 178.5,1129.7 177.5,1129.8 176.5,1130.0 175.5,1130.2 174.5,1130.4 173.5,1130.6 172.5,1130.7 171.5,1130.9 170.5,1131.1 169.5,1131.3 168.5,1131.5 167.5,1131.7 166.5,1131.9 165.5,1132.1 164.5,1132.2 163.5,1132.4 162.5,1132.6 161.5,1132.8 160.5,1133.0 159.5,1133.2 158.5,1133.4 157.5,1133.7 156.5,1133.9 155.5,1134.1 154.5,1134.3 153.5,1134.5 152.5,1134.8 151.5,1135.0 150.5,1135.2 149.5,1135.5 148.5,1135.8 147.5,1136.0 146.5,1136.3 145.5,1136.6 144.5,1136.9 143.5,1137.2 142.5,1137.5 141.5,1137.8 140.5,1138.2 139.5,1138.5 138.5,1138.9 137.5,1139.2 136.5,1139.6 135.5,1139.9 134.5,1140.3 133.5,1140.6 132.5,1140.9 131.5,1141.2 130.5,1141.6 129.5,1141.9 128.5,1142.2 127.5,1142.5 126.5,1142.8 125.5,1143.0 124.5,1143.3 123.5,1143.6 122.5,1143.9 121.5,1144.1 120.5,1144.4 119.5,1144.6 118.5,1144.9 117.5,1145.1 116.5,1145.2 115.5,1145.3 114.5,1145.4 113.5,1145.5 112.5,1145.5 111.5,1145.5 110.5,1145.5 109.5,1145.5 108.5,1145.5 107.5,1145.5 106.5,1145.5 105.5,1145.5 104.5,1145.5 103.5,1145.5 102.5,1145.5 101.5,1145.5 100.5,1145.5 99.5,1145.5 98.5,1145.5 97.5,1145.5 96.5,1145.5 95.5,1145.4 94.5,1145.4 93.5,1145.4 92.5,1145.4 91.5,1145.4 90.5,1145.4 89.5,1145.4 88.5,1145.4 87.5,1145.4 86.5,1145.4 85.5,1145.4 84.5,1145.4 83.5,1145.4 82.5,1145.4 81.5,1145.4 80.5,1145.4 79.5,1145.4 78.5,1145.4 77.5,1145.4"/><polygon points="77.5,1145.1 78.5,1145.1 79.5,1145.1 80.5,1145.1 81.5,1145.1 82.5,1145.1 83.5,1145.1 84.5,1145.1 85.5,1145.1 86.5,1145.1 87.5,1145.1 88.5,1145.1 89.5,1145.1 90.5,1145.0 91.5,1145.0 92.5,1145.0 93.5,1145.0 94.5,1145.0 95.5,1145.0 96.5,1145.0 97.5,1145.0 98.5,1145.0 99.5,1145.0 100.5,1145.0 101.5,1145.0 102.5,1145.0 103.5,1145.0 104.5,1145.0 105.5,1145.0 106.5,1145.0 107.5,1145.0 108.5,1145.0 109.5,1145.0 110.5,1145.0 111.5,1145.0 112.5,1145.0 113.5,1145.0 114.5,1144.9 115.5,1144.8 116.5,1144.6 117.5,1144.4 118.5,1144.1 119.5,1143.9 120.5,1143.5 121.5,1143.2 122.5,1142.9 123.5,1142.6 124.5,1142.2 125.5,1141.9 126.5,1141.6 127.5,1141.2 128.5,1140.8 129.5,1140.5 130.5,1140.1 131.5,1139.7 132.5,1139.4 133.5,1139.0 134.5,1138.6 135.5,1138.2 136.5,1137.8 137.5,1137.4 138.5,1137.0 139.5,1136.5 140.5,1136.1 141.5,1135.7 142.5,1135.3 143.5,1135.0 144.5,1134.6 145.5,1134.2 146.5,1133.9 147.5,1133.6 148.5,1133.2 149.5,1132.9 150.5,1132.6 151.5,1132.3 152.5,1132.0 153.5,1131.7 154.5,1131.4 155.5,1131.1 156.5,1130.8 157.5,1130.5 158.5,1130.2 159.5,1129.9 160.5,1129.7 161.5,1129.4 162.5,1129.1 163.5,1128.9 164.5,1128.6 165.5,1128.3 166.5,1128.1 167.5,1127.8 168.5,1127.5 169.5,1127.3 170.5,1127.0 171.5,1126.8 172.5,1126.5 173.5,1126.2 174.5,1126.0 175.5,1125.7 176.5,1125.5 177.5,1125.2 178.5,1125.0 179.5,1124.7 180.5,1124.5 181.5,1124.3 182.5,1124.1 183.5,1123.8 184.5,1123.6 185.5,1123.4 186.5,1123.2 187.5,1123.0 188.5,1122.8 189.5,1122.7 190.5,1122.5 191.5,1122.3 192.5,1122.1 193.5,1121.9 194.5,1121.8 195.5,1121.6 196.5,1121.4 197.5,1121.3 198.5,1121.1 199.5,1121.0 200.5,1120.8 201.5,1120.7 202.5,1120.6 203.5,1120.5 204.5,1120.4 205.5,1120.2 206.5,1120.1 207.5,1120.0 208.5,1119.9 209.5,1119.8 210.5,1119.7 211.5,1119.6 212.5,1119.5 213.5,1119.4 214.5,1119.3 215.5,1119.2 216.5,1119.1 217.5,1119.0 218.5,1118.9 219.5,1118.8 220.5,1118.7 221.5,1118.6 222.5,1118.5 223.5,1118.5 224.5,1118.4 225.5,1118.3 226.5,1118.2 227.5,1118.1 228.5,1118.0 229.5,1118.0 230.5,1117.9 231.5,1117.8 232.5,1117.7 233.5,1117.7 234.5,1117.6 235.5,1117.5 236.5,1117.5 237.5,1117.4 238.5,1117.4 239.5,1117.3 240.5,1117.2 241.5,1117.2 242.5,1117.1 243.5,1117.1 244.5,1117.0 245.5,1117.0 246.5,1116.9 247.5,1116.9 248.5,1116.8 249.5,1116.7 250.5,1116.7 251.5,1116.6 252.5,1116.6 253.5,1116.5 254.5,1116.5 255.5,1116.4 256.5,1116.4 257.5,1116.3 258.5,1116.3 259.5,1116.2 260.5,1116.2 261.5,1116.1 262.5,1116.0 263.5,1115.9 264.5,1115.8 265.5,1115.8 266.5,1115.7 267.5,1115.6 268.5,1115.5 269.5,1115.4 270.5,1115.3 271.5,1115.1 272.5,1115.0 273.5,1114.9 274.5,1114.8 275.5,1114.7 276.5,1114.5 277.5,1114.4 278.5,1114.2 279.5,1114.1 280.5,1113.9 281.5,1113.7 282.5,1113.6 283.5,1113.4 284.5,1113.2 285.5,1113.0 286.5,1112.8 287.5,1112.6 288.5,1112.4 289.5,1112.2 290.5,1112.0 291.5,1111.7 292.5,1111.5 293.5,1111.2 294.5,1111.0 295.5,1110.7 296.5,1110.4 297.5,1110.1 298.5,1109.8 299.5,1109.5 300.5,1109.1 301.5,1108.7 302.5,1108.3 303.5,1107.9 304.5,1107.5 305.5,1107.0 306.5,1106.5 307.5,1106.0 308.5,1105.5 309.5,1105.0 310.5,1104.4 311.5,1103.9 312.5,1103.3 313.5,1102.7 314.5,1102.1 315.5,1101.5 316.5,1100.9 317.5,1100.3 318.5,1099.6 319.5,1099.0 320.5,1098.3 321.5,1097.6 322.5,1096.9 323.5,1096.2 324.5,1095.4 325.5,1094.7 326.5,1093.9 327.5,1093.2 328.5,1092.4 329.5,1091.6 330.5,1090.7 331.5,1089.9 332.5,1089.0 333.5,1088.1 334.5,1087.2 335.5,1086.4 336.5,1085.5 337.5,1084.7 338.5,1083.9 339.5,1083.0 340.5,1082.2 341.5,1081.5 342.5,1080.7 343.5,1079.9 344.5,1079.2 345.5,1078.5 346.5,1077.7 347.5,1077.0 348.5,1076.3 349.5,1075.6 350.5,1074.9 351.5,1074.2 352.5,1073.5 353.5,1072.7 354.5,1072.0 355.5,1071.3 356.5,1070.6 357.5,1069.9 358.5,1069.1 359.5,1068.4 360.5,1067.6 361.5,1066.9 362.5,1066.1 363.5,1065.3 364.5,1064.5 365.5,1063.6 366.5,1062.8 367.5,1061.9 368.5,1061.0 369.5,1060.2 370.5,1059.2 371.5,1058.3 372.5,1057.4 373.5,1056.4 374.5,1055.4 375.5,1054.5 376.5,1053.5 377.5,1052.5 378.5,1051.5 379.5,1050.6 380.5,1049.6 381.5,1048.6 382.5,1047.7 383.5,1046.7 384.5,1045.8 385.5,1044.9 386.5,1044.0 387.5,1043.1 388.5,1042.3 389.5,1041.4 390.5,1040.6 391.5,1039.8 392.5,1039.0 393.5,1038.2 394.5,1037.5 395.5,1036.7 396.5,1036.0 397.5,1035.2 398.5,1034.5 399.5,1033.8 400.5,1033.1 401.5,1032.4 402.5,1031.6 403.5,1030.9 404.5,1030.3 405.5,1029.6 406.5,1028.9 407.5,1028.2 408.5,1027.5 409.5,1026.8 410.5,1026.1 411.5,1025.4 412.5,1024.8 413.5,1024.1 414.5,1023.4 415.5,1022.7 416.5,1022.0 417.5,1021.3 418.5,1020.6 419.5,1019.9 420.5,1019.2 421.5,1018.5 422.5,1017.8 423.5,1017.1 424.5,1016.4 425.5,1015.7 426.5,1015.0 427.5,1014.3 428.5,1013.7 429.5,1013.0 430.5,1012.3 431.5,1011.6 432.5,1011.0 433.5,1010.3 434.5,1009.6 435.5,1009.0 436.5,1008.3 437.5,1007.7 438.5,1007.0 439.5,1006.4 440.5,1005.7 441.5,1005.2 442.5,1004.6 443.5,1004.0 444.5,1003.4 445.5,1002.9 446.5,1002.3 447.5,1001.8 448.5,1001.3 449.5,1000.7 450.5,1000.2 451.5,999.7 452.5,999.1 453.5,998.6 454.5,998.0 455.5,997.5 456.5,996.9 457.5,996.3 458.5,995.7 459.5,995.1 460.5,994.5 461.5,993.9 462.5,993.2 463.5,992.5 464.5,991.8 465.5,991.0 466.5,990.2 467.5,989.3 468.5,988.4 469.5,987.5 470.5,986.6 471.5,985.6 472.5,984.6 473.5,983.6 474.5,982.6 475.5,981.5 476.5,980.4 477.5,979.3 478.5,978.2 479.5,977.1 480.5,975.9 481.5,974.7 482.5,973.6 483.5,972.4 484.5,971.2 485.5,970.0 486.5,968.8 487.5,967.5 488.5,966.3 489.5,965.1 490.5,963.8 491.5,962.6 492.5,961.3 493.5,960.0 494.5,958.7 495.5,957.3 496.5,955.9 497.5,954.6 498.5,953.1 499.5,951.7 500.5,950.3 501.5,948.8 502.5,947.4 503.5,945.9 504.5,944.4 505.5,942.9 506.5,941.5 507.5,940.0 508.5,938.5 509.5,937.1 510.5,935.6 511.5,934.1 512.5,932.7 513.5,931.3 514.5,929.8 515.5,928.4 516.5,927.0 517.5,925.6 518.5,924.2 519.5,922.9 520.5,921.5 521.5,920.1 522.5,918.7 523.5,917.3 524.5,915.9 525.5,914.5 526.5,913.1 527.5,911.6 528.5,910.1 529.5,908.7 530.5,907.2 531.5,905.7 532.5,904.1 533.5,902.6 534.5,901.1 535.5,899.5 536.5,898.0 537.5,896.5 538.5,894.9 539.5,893.4 540.5,891.9 541.5,890.4 542.5,888.9 543.5,887.4 544.5,886.0 545.5,884.5 546.5,883.1 547.5,881.7 548.5,880.3 549.5,878.9 550.5,877.5 551.5,876.2 552.5,874.8 553.5,873.4 554.5,872.1 555.5,870.7 556.5,869.4 557.5,868.1 558.5,866.7 559.5,865.4 560.5,864.1 561.5,862.8 562.5,861.5 563.5,860.2 564.5,858.9 565.5,857.6 566.5,856.3 567.5,855.0 568.5,853.8 569.5,852.5 570.5,851.3 571.5,850.0 572.5,848.8 573.5,847.6 574.5,846.4 575.5,845.2 576.5,844.0 577.5,842.8 578.5,841.6 579.5,840.4 580.5,839.3 581.5,838.1 582.5,837.0 583.5,835.8 584.5,834.7 585.5,833.5 586.5,832.4 587.5,831.3 588.5,830.2 589.5,829.1 590.5,828.0 591.5,826.9 592.5,825.8 593.5,824.7 594.5,823.6 595.5,822.5 596.5,821.4 597.5,820.3 598.5,819.2 599.5,818.1 600.5,817.1 601.5,816.0 602.5,814.9 603.5,813.9 604.5,812.9 605.5,811.8 606.5,810.8 607.5,809.8 608.5,808.8 609.5,807.8 610.5,806.9 611.5,805.9 612.5,805.0 613.5,804.1 614.5,803.2 615.5,802.4 616.5,801.6 617.5,800.8 618.5,800.0 619.5,799.2 620.5,798.5 621.5,797.7 622.5,797.0 623.5,796.2 624.5,795.5 625.5,794.8 626.5,794.1 627.5,793.4 628.5,792.7 629.5,792.1 630.5,791.4 631.5,790.8 632.5,790.2 633.5,789.6 634.5,789.0 635.5,788.5 636.5,787.9 637.5,787.4 638.5,786.9 639.5,786.4 640.5,785.9 641.5,785.5 642.5,785.1 643.5,784.6 644.5,784.2 645.5,783.8 646.5,783.5 647.5,783.1 648.5,782.7 649.5,782.4 650.5,782.0 651.5,781.7 652.5,781.4 653.5,781.0 654.5,780.7 655.5,780.4 656.5,780.1 657.5,779.7 658.5,779.4 659.5,779.1 660.5,778.8 661.5,778.4 662.5,778.1 663.5,777.8 664.5,777.4 665.5,777.1 666.5,776.7 667.5,776.4 668.5,776.0 669.5,775.7 670.5,775.3 671.5,774.9 672.5,774.6 673.5,774.2 674.5,773.9 675.5,773.5 676.5,773.2 677.5,772.8 678.5,772.5 679.5,772.1 680.5,771.8 681.5,771.4 682.5,771.1 683.5,770.7 684.5,770.3 685.5,770.0 686.5,769.6 687.5,769.3 688.5,768.9 689.5,768.5 690.5,768.2 691.5,767.8 692.5,767.4 693.5,767.1 694.5,766.7 695.5,766.4 696.5,766.0 697.5,765.7 698.5,765.3 699.5,764.9 700.5,764.6 701.5,764.2 702.5,763.9 703.5,763.5 704.5,763.1 705.5,762.7 706.5,762.3 707.5,762.0 708.5,761.6 709.5,761.2 710.5,760.7 711.5,760.3 712.5,759.9 713.5,759.4 714.5,759.0 715.5,758.5 716.5,758.1 717.5,757.6 718.5,757.1 719.5,756.6 720.5,756.0 721.5,755.5 722.5,754.9 723.5,754.3 724.5,753.8 725.5,753.1 726.5,752.5 727.5,751.8 728.5,751.2 729.5,750.5 730.5,749.7 731.5,748.9 732.5,748.2 733.5,747.4 734.5,746.5 735.5,745.7 736.5,744.7 737.5,743.8 739.0,742.8 739.0,770.0 737.5,770.9 736.5,771.9 735.5,772.8 734.5,773.6 733.5,774.5 732.5,775.2 731.5,776.0 730.5,776.8 729.5,777.5 728.5,778.2 727.5,778.9 726.5,779.5 725.5,780.1 724.5,780.7 723.5,781.3 722.5,781.9 721.5,782.4 720.5,783.0 719.5,783.5 718.5,784.0 717.5,784.5 716.5,785.0 715.5,785.4 714.5,785.9 713.5,786.3 712.5,786.7 711.5,787.1 710.5,787.6 709.5,788.0 708.5,788.3 707.5,788.7 706.5,789.1 705.5,789.5 704.5,789.9 703.5,790.2 702.5,790.6 701.5,790.9 700.5,791.3 699.5,791.6 698.5,792.0 697.5,792.3 696.5,792.7 695.5,793.0 694.5,793.3 693.5,793.7 692.5,794.0 691.5,794.4 690.5,794.7 689.5,795.1 688.5,795.5 687.5,795.8 686.5,796.2 685.5,796.5 684.5,796.9 683.5,797.2 682.5,797.6 681.5,797.9 680.5,798.2 679.5,798.6 678.5,798.9 677.5,799.3 676.5,799.6 675.5,800.0 674.5,800.3 673.5,800.6 672.5,801.0 671.5,801.3 670.5,801.7 669.5,802.0 668.5,802.3 667.5,802.7 666.5,803.0 665.5,803.4 664.5,803.7 663.5,804.0 662.5,804.4 661.5,804.7 660.5,805.0 659.5,805.3 658.5,805.7 657.5,806.0 656.5,806.3 655.5,806.6 654.5,806.9 653.5,807.2 652.5,807.5 651.5,807.9 650.5,808.2 649.5,808.5 648.5,808.9 647.5,809.2 646.5,809.6 645.5,809.9 644.5,810.3 643.5,810.7 642.5,811.1 641.5,811.6 640.5,812.0 639.5,812.4 638.5,812.9 637.5,813.4 636.5,813.9 635.5,814.5 634.5,815.0 633.5,815.6 632.5,816.2 631.5,816.8 630.5,817.4 629.5,818.0 628.5,818.7 627.5,819.3 626.5,820.0 625.5,820.7 624.5,821.4 623.5,822.1 622.5,822.9 621.5,823.6 620.5,824.3 619.5,825.1 618.5,825.8 617.5,826.6 616.5,827.4 615.5,828.2 614.5,829.0 613.5,829.8 612.5,830.6 611.5,831.4 610.5,832.2 609.5,833.1 608.5,834.0 607.5,834.9 606.5,835.8 605.5,836.8 604.5,837.8 603.5,838.8 602.5,839.8 601.5,840.8 600.5,841.8 599.5,842.9 598.5,843.9 597.5,845.0 596.5,846.0 595.5,847.1 594.5,848.1 593.5,849.2 592.5,850.2 591.5,851.3 590.5,852.4 589.5,853.4 588.5,854.5 587.5,855.6 586.5,856.6 585.5,857.7 584.5,858.8 583.5,859.9 582.5,861.0 581.5,862.1 580.5,863.3 579.5,864.4 578.5,865.5 577.5,866.7 576.5,867.8 575.5,869.0 574.5,870.1 573.5,871.3 572.5,872.5 571.5,873.6 570.5,874.8 569.5,876.0 568.5,877.2 567.5,878.4 566.5,879.5 565.5,880.7 564.5,881.9 563.5,883.1 562.5,884.3 561.5,885.5 560.5,886.7 559.5,888.0 558.5,889.2 557.5,890.4 556.5,891.7 555.5,892.9 554.5,894.2 553.5,895.4 552.5,896.7 551.5,898.0 550.5,899.2 549.5,900.5 548.5,901.8 547.5,903.1 546.5,904.4 545.5,905.8 544.5,907.1 543.5,908.4 542.5,909.8 541.5,911.2 540.5,912.6 539.5,914.0 538.5,915.4 537.5,916.8 536.5,918.2 535.5,919.7 534.5,921.1 533.5,922.5 532.5,923.9 531.5,925.4 530.5,926.8 529.5,928.1 528.5,929.5 527.5,930.9 526.5,932.2 525.5,933.5 524.5,934.9 523.5,936.2 522.5,937.5 521.5,938.8 520.5,940.1 519.5,941.4 518.5,942.7 517.5,944.0 516.5,945.3 515.5,946.6 514.5,947.9 513.5,949.2 512.5,950.6 511.5,952.0 510.5,953.3 509.5,954.7 508.5,956.1 507.5,957.5 506.5,958.9 505.5,960.3 504.5,961.7 503.5,963.1 502.5,964.5 501.5,965.9 500.5,967.3 499.5,968.6 498.5,970.0 497.5,971.3 496.5,972.6 495.5,973.9 494.5,975.2 493.5,976.4 492.5,977.7 491.5,978.9 490.5,980.0 489.5,981.2 488.5,982.3 487.5,983.5 486.5,984.6 485.5,985.7 484.5,986.8 483.5,987.9 482.5,989.0 481.5,990.1 480.5,991.1 479.5,992.2 478.5,993.2 477.5,994.3 476.5,995.3 475.5,996.2 474.5,997.2 473.5,998.2 472.5,999.1 471.5,1000.0 470.5,1000.8 469.5,1001.7 468.5,1002.5 467.5,1003.3 466.5,1004.0 465.5,1004.7 464.5,1005.5 463.5,1006.2 462.5,1006.8 461.5,1007.5 460.5,1008.1 459.5,1008.7 458.5,1009.3 457.5,1009.9 456.5,1010.4 455.5,1011.0 454.5,1011.5 453.5,1012.0 452.5,1012.5 451.5,1013.0 450.5,1013.6 449.5,1014.1 448.5,1014.6 447.5,1015.1 446.5,1015.6 445.5,1016.1 444.5,1016.6 443.5,1017.2 442.5,1017.7 441.5,1018.3 440.5,1018.9 439.5,1019.4 438.5,1020.0 437.5,1020.6 436.5,1021.1 435.5,1021.7 434.5,1022.3 433.5,1022.9 432.5,1023.5 431.5,1024.1 430.5,1024.7 429.5,1025.3 428.5,1025.9 427.5,1026.5 426.5,1027.1 425.5,1027.7 424.5,1028.3 423.5,1028.9 422.5,1029.5 421.5,1030.1 420.5,1030.8 419.5,1031.4 418.5,1032.0 417.5,1032.6 416.5,1033.3 415.5,1033.9 414.5,1034.5 413.5,1035.2 412.5,1035.8 411.5,1036.5 410.5,1037.2 409.5,1037.8 408.5,1038.5 407.5,1039.1 406.5,1039.8 405.5,1040.4 404.5,1041.1 403.5,1041.8 402.5,1042.4 401.5,1043.1 400.5,1043.8 399.5,1044.5 398.5,1045.2 397.5,1045.9 396.5,1046.6 395.5,1047.3 394.5,1048.0 393.5,1048.7 392.5,1049.5 391.5,1050.2 390.5,1051.0 389.5,1051.8 388.5,1052.6 387.5,1053.4 386.5,1054.2 385.5,1055.1 384.5,1056.0 383.5,1056.8 382.5,1057.7 381.5,1058.6 380.5,1059.6 379.5,1060.5 378.5,1061.4 377.5,1062.3 376.5,1063.3 375.5,1064.2 374.5,1065.1 373.5,1066.0 372.5,1066.9 371.5,1067.8 370.5,1068.7 369.5,1069.6 368.5,1070.5 367.5,1071.3 366.5,1072.1 365.5,1072.9 364.5,1073.7 363.5,1074.4 362.5,1075.1 361.5,1075.8 360.5,1076.5 359.5,1077.2 358.5,1077.9 357.5,1078.5 356.5,1079.2 355.5,1079.8 354.5,1080.5 353.5,1081.1 352.5,1081.7 351.5,1082.4 350.5,1083.0 349.5,1083.6 348.5,1084.3 347.5,1084.9 346.5,1085.5 345.5,1086.2 344.5,1086.9 343.5,1087.5 342.5,1088.2 341.5,1088.9 340.5,1089.6 339.5,1090.3 338.5,1091.1 337.5,1091.8 336.5,1092.6 335.5,1093.4 334.5,1094.1 333.5,1094.9 332.5,1095.7 331.5,1096.5 330.5,1097.3 329.5,1098.1 328.5,1098.9 327.5,1099.6 326.5,1100.4 325.5,1101.1 324.5,1101.8 323.5,1102.5 322.5,1103.2 321.5,1103.8 320.5,1104.5 319.5,1105.1 318.5,1105.8 317.5,1106.4 316.5,1107.0 315.5,1107.6 314.5,1108.2 313.5,1108.7 312.5,1109.3 311.5,1109.8 310.5,1110.3 309.5,1110.8 308.5,1111.3 307.5,1111.8 306.5,1112.3 305.5,1112.7 304.5,1113.2 303.5,1113.6 302.5,1114.0 301.5,1114.3 300.5,1114.7 299.5,1115.0 298.5,1115.3 297.5,1115.6 296.5,1115.9 295.5,1116.2 294.5,1116.5 293.5,1116.7 292.5,1116.9 291.5,1117.2 290.5,1117.4 289.5,1117.6 288.5,1117.8 287.5,1118.0 286.5,1118.2 285.5,1118.4 284.5,1118.5 283.5,1118.7 282.5,1118.9 281.5,1119.0 280.5,1119.2 279.5,1119.3 278.5,1119.5 277.5,1119.6 276.5,1119.7 275.5,1119.9 274.5,1120.0 273.5,1120.1 272.5,1120.2 271.5,1120.3 270.5,1120.4 269.5,1120.5 268.5,1120.6 267.5,1120.7 266.5,1120.8 265.5,1120.8 264.5,1120.9 263.5,1121.0 262.5,1121.0 261.5,1121.1 260.5,1121.2 259.5,1121.2 258.5,1121.3 257.5,1121.3 256.5,1121.4 255.5,1121.4 254.5,1121.5 253.5,1121.5 252.5,1121.6 251.5,1121.6 250.5,1121.6 249.5,1121.7 248.5,1121.7 247.5,1121.8 246.5,1121.8 245.5,1121.9 244.5,1121.9 243.5,1122.0 242.5,1122.0 241.5,1122.1 240.5,1122.1 239.5,1122.2 238.5,1122.2 237.5,1122.3 236.5,1122.3 235.5,1122.4 234.5,1122.4 233.5,1122.5 232.5,1122.6 231.5,1122.6 230.5,1122.7 229.5,1122.8 228.5,1122.8 227.5,1122.9 226.5,1123.0 225.5,1123.1 224.5,1123.1 223.5,1123.2 222.5,1123.3 221.5,1123.4 220.5,1123.5 219.5,1123.6 218.5,1123.6 217.5,1123.7 216.5,1123.8 215.5,1123.9 214.5,1124.0 213.5,1124.1 212.5,1124.2 211.5,1124.3 210.5,1124.4 209.5,1124.5 208.5,1124.6 207.5,1124.7 206.5,1124.8 205.5,1124.9 204.5,1125.0 203.5,1125.1 202.5,1125.2 201.5,1125.3 200.5,1125.5 199.5,1125.6 198.5,1125.7 197.5,1125.8 196.5,1125.9 195.5,1126.0 194.5,1126.1 193.5,1126.2 192.5,1126.3 191.5,1126.5 190.5,1126.6 189.5,1126.7 188.5,1126.8 187.5,1127.0 186.5,1127.1 185.5,1127.3 184.5,1127.4 183.5,1127.6 182.5,1127.7 181.5,1127.9 180.5,1128.1 179.5,1128.3 178.5,1128.4 177.5,1128.6 176.5,1128.8 175.5,1129.0 174.5,1129.2 173.5,1129.4 172.5,1129.6 171.5,1129.8 170.5,1130.0 169.5,1130.3 168.5,1130.5 167.5,1130.7 166.5,1130.9 165.5,1131.1 164.5,1131.3 163.5,1131.5 162.5,1131.7 161.5,1131.9 160.5,1132.2 159.5,1132.4 158.5,1132.6 157.5,1132.8 156.5,1133.1 155.5,1133.3 154.5,1133.6 153.5,1133.8 152.5,1134.1 151.5,1134.3 150.5,1134.6 149.5,1134.8 148.5,1135.1 147.5,1135.4 146.5,1135.7 145.5,1136.0 144.5,1136.3 143.5,1136.6 142.5,1136.9 141.5,1137.3 140.5,1137.6 139.5,1138.0 138.5,1138.4 137.5,1138.8 136.5,1139.1 135.5,1139.5 134.5,1139.8 133.5,1140.2 132.5,1140.5 131.5,1140.9 130.5,1141.2 129.5,1141.5 128.5,1141.8 127.5,1142.1 126.5,1142.4 125.5,1142.7 124.5,1143.0 123.5,1143.3 122.5,1143.6 121.5,1143.9 120.5,1144.2 119.5,1144.4 118.5,1144.7 117.5,1144.9 116.5,1145.1 115.5,1145.2 114.5,1145.3 113.5,1145.3 112.5,1145.4 111.5,1145.4 110.5,1145.4 109.5,1145.4 108.5,1145.4 107.5,1145.4 106.5,1145.4 105.5,1145.4 104.5,1145.4 103.5,1145.4 102.5,1145.4 101.5,1145.4 100.5,1145.4 99.5,1145.4 98.5,1145.3 97.5,1145.3 96.5,1145.3 95.5,1145.3 94.5,1145.3 93.5,1145.3 92.5,1145.3 91.5,1145.3 90.5,1145.3 89.5,1145.3 88.5,1145.3 87.5,1145.3 86.5,1145.3 85.5,1145.3 84.5,1145.3 83.5,1145.3 82.5,1145.3 81.5,1145.3 80.5,1145.3 79.5,1145.3 78.5,1145.3 77.5,1145.3"/><polygon points="740.0,755.0 747.2,741.2 752.0,730.0 758.5,715.0 762.0,703.0 766.0,688.8 771.2,670.0 776.0,645.0 781.2,620.0 785.5,597.5 785.5,732.2 772.0,736.8 760.0,744.0 750.0,750.0 740.0,755.0"/><polygon points="740.0,755.0 748.0,742.5 755.0,731.0 762.2,718.8 769.0,700.0 776.9,670.0 781.0,652.0 785.5,631.0 785.5,727.3 772.0,733.0 760.0,742.0 750.0,749.0 740.0,755.0"/><polygon points="740.0,755.0 750.0,741.0 760.8,726.2 769.0,709.0 778.0,692.5 785.5,677.5 785.5,716.0 772.0,727.0 760.0,739.5 750.0,747.5 740.0,755.0"/></g>
<line x1="77.5" x2="785.5" y1="568.50" y2="568.50" stroke="#b0b0b0" stroke-width="1.11"/>
<line x1="77.5" x2="785.5" y1="493.50" y2="493.50" stroke="#b0b0b0" stroke-width="1.11"/>
<line x1="77.5" x2="785.5" y1="418.50" y2="418.50" stroke="#b0b0b0" stroke-width="1.11"/>
<line x1="77.5" x2="785.5" y1="344.50" y2="344.50" stroke="#b0b0b0" stroke-width="1.11"/>
<line x1="77.5" x2="785.5" y1="269.50" y2="269.50" stroke="#b0b0b0" stroke-width="1.11"/>
<line x1="77.5" x2="785.5" y1="194.50" y2="194.50" stroke="#b0b0b0" stroke-width="1.11"/>
<line x1="77.5" x2="785.5" y1="119.50" y2="119.50" stroke="#b0b0b0" stroke-width="1.11"/>
<line x1="77.5" x2="785.5" y1="44.50" y2="44.50" stroke="#b0b0b0" stroke-width="1.11"/>
<line x1="77.5" x2="785.5" y1="1145.50" y2="1145.50" stroke="#b0b0b0" stroke-width="1.11"/>
<line x1="77.5" x2="785.5" y1="1059.50" y2="1059.50" stroke="#b0b0b0" stroke-width="1.11"/>
<line x1="77.5" x2="785.5" y1="973.50" y2="973.50" stroke="#b0b0b0" stroke-width="1.11"/>
<line x1="77.5" x2="785.5" y1="887.50" y2="887.50" stroke="#b0b0b0" stroke-width="1.11"/>
<line x1="77.5" x2="785.5" y1="802.50" y2="802.50" stroke="#b0b0b0" stroke-width="1.11"/>
<line x1="77.5" x2="785.5" y1="716.50" y2="716.50" stroke="#b0b0b0" stroke-width="1.11"/>
<line x1="77.5" x2="785.5" y1="630.50" y2="630.50" stroke="#b0b0b0" stroke-width="1.11"/>
<g clip-path="url(#c1)">
<path d="M77.5,567.9 L785.5,566.9" stroke="#1f77b4" stroke-width="2.08" fill="none"/>
<g fill="#ff7f0e"><circle cx="78.0" cy="568.1" r="4.87"/><circle cx="79.6" cy="568.1" r="4.87"/><circle cx="81.2" cy="568.1" r="4.87"/><circle cx="82.8" cy="568.1" r="4.87"/><circle cx="84.4" cy="568.1" r="4.87"/><circle cx="86.0" cy="568.1" r="4.87"/><circle cx="87.5" cy="568.1" r="4.87"/><circle cx="89.1" cy="568.1" r="4.87"/><circle cx="90.7" cy="568.1" r="4.87"/><circle cx="92.3" cy="568.1" r="4.87"/><circle cx="93.9" cy="568.1" r="4.87"/><circle cx="95.5" cy="568.1" r="4.87"/><circle cx="97.1" cy="568.1" r="4.87"/><circle cx="98.7" cy="568.1" r="4.87"/><circle cx="100.3" cy="568.1" r="4.87"/><circle cx="101.8" cy="568.1" r="4.87"/><circle cx="103.4" cy="568.2" r="4.87"/><circle cx="105.0" cy="568.1" r="4.87"/><circle cx="106.6" cy="568.1" r="4.87"/><circle cx="108.2" cy="568.1" r="4.87"/><circle cx="109.8" cy="568.1" r="4.87"/><circle cx="111.4" cy="568.1" r="4.87"/><circle cx="113.0" cy="568.1" r="4.87"/><circle cx="114.6" cy="568.1" r="4.87"/><circle cx="116.1" cy="568.1" r="4.87"/><circle cx="117.7" cy="568.1" r="4.87"/><circle cx="119.3" cy="568.1" r="4.87"/><circle cx="120.9" cy="568.1" r="4.87"/><circle cx="122.5" cy="568.0" r="4.87"/><circle cx="124.1" cy="567.4" r="4.87"/><circle cx="125.7" cy="567.3" r="4.87"/><circle cx="127.3" cy="567.0" r="4.87"/><circle cx="128.9" cy="566.9" r="4.87"/><circle cx="130.4" cy="566.8" r="4.87"/><circle cx="132.0" cy="567.1" r="4.87"/><circle cx="133.6" cy="566.8" r="4.87"/><circle cx="135.2" cy="566.2" r="4.87"/><circle cx="136.8" cy="566.1" r="4.87"/><circle cx="138.4" cy="566.3" r="4.87"/><circle cx="140.0" cy="566.0" r="4.87"/><circle cx="141.6" cy="565.8" r="4.87"/><circle cx="143.2" cy="565.7" r="4.87"/><circle cx="144.7" cy="565.3" r="4.87"/><circle cx="146.3" cy="565.2" r="4.87"/><circle cx="147.9" cy="565.1" r="4.87"/><circle cx="149.5" cy="564.7" r="4.87"/><circle cx="151.1" cy="564.9" r="4.87"/><circle cx="152.7" cy="564.2" r="4.87"/><circle cx="154.3" cy="564.3" r="4.87"/><circle cx="155.9" cy="564.3" r="4.87"/><circle cx="157.5" cy="564.2" r="4.87"/><circle cx="159.0" cy="564.6" r="4.87"/><circle cx="160.6" cy="565.4" r="4.87"/><circle cx="162.2" cy="565.6" r="4.87"/><circle cx="163.8" cy="566.4" r="4.87"/><circle cx="165.4" cy="566.2" r="4.87"/><circle cx="167.0" cy="565.4" r="4.87"/><circle cx="168.6" cy="565.3" r="4.87"/><circle cx="170.2" cy="565.0" r="4.87"/><circle cx="171.8" cy="565.1" r="4.87"/><circle cx="173.3" cy="565.1" r="4.87"/><circle cx="174.9" cy="565.1" r="4.87"/><circle cx="176.5" cy="565.1" r="4.87"/><circle cx="178.1" cy="565.1" r="4.87"/><circle cx="179.7" cy="565.1" r="4.87"/><circle cx="181.3" cy="565.1" r="4.87"/><circle cx="182.9" cy="565.1" r="4.87"/><circle cx="184.5" cy="565.1" r="4.87"/><circle cx="186.1" cy="565.1" r="4.87"/><circle cx="187.7" cy="565.1" r="4.87"/><circle cx="189.2" cy="565.1" r="4.87"/><circle cx="190.8" cy="565.1" r="4.87"/><circle cx="192.4" cy="565.1" r="4.87"/><circle cx="194.0" cy="565.1" r="4.87"/><circle cx="195.6" cy="565.1" r="4.87"/><circle cx="197.2" cy="565.1" r="4.87"/><circle cx="198.8" cy="565.0" r="4.87"/><circle cx="200.4" cy="565.2" r="4.87"/><circle cx="202.0" cy="565.1" r="4.87"/><circle cx="203.5" cy="565.1" r="4.87"/><circle cx="205.1" cy="565.1" r="4.87"/><circle cx="206.7" cy="565.1" r="4.87"/><circle cx="208.3" cy="565.4" r="4.87"/><circle cx="209.9" cy="564.8" r="4.87"/><circle cx="211.5" cy="564.2" r="4.87"/><circle cx="213.1" cy="564.0" r="4.87"/><circle cx="214.7" cy="564.1" r="4.87"/><circle cx="216.3" cy="564.1" r="4.87"/><circle cx="217.8" cy="564.1" r="4.87"/><circle cx="219.4" cy="564.1" r="4.87"/><circle cx="221.0" cy="564.1" r="4.87"/><circle cx="222.6" cy="564.1" r="4.87"/><circle cx="224.2" cy="564.1" r="4.87"/><circle cx="225.8" cy="564.1" r="4.87"/><circle cx="227.4" cy="564.1" r="4.87"/><circle cx="229.0" cy="564.1" r="4.87"/><circle cx="230.6" cy="564.1" r="4.87"/><circle cx="232.1" cy="564.1" r="4.87"/><circle cx="233.7" cy="564.1" r="4.87"/><circle cx="235.3" cy="564.1" r="4.87"/><circle cx="236.9" cy="564.1" r="4.87"/><circle cx="238.5" cy="564.1" r="4.87"/><circle cx="240.1" cy="564.1" r="4.87"/><circle cx="241.7" cy="564.0" r="4.87"/><circle cx="243.3" cy="564.1" r="4.87"/><circle cx="244.9" cy="564.1" r="4.87"/><circle cx="246.4" cy="564.1" r="4.87"/><circle cx="248.0" cy="564.1" r="4.87"/><circle cx="249.6" cy="564.1" r="4.87"/><circle cx="251.2" cy="564.1" r="4.87"/><circle cx="252.8" cy="564.1" r="4.87"/><circle cx="254.4" cy="564.1" r="4.87"/><circle cx="256.0" cy="563.8" r="4.87"/><circle cx="257.6" cy="563.3" r="4.87"/><circle cx="259.2" cy="563.3" r="4.87"/><circle cx="260.7" cy="563.2" r="4.87"/><circle cx="262.3" cy="563.0" r="4.87"/><circle cx="263.9" cy="563.0" r="4.87"/><circle cx="265.5" cy="562.5" r="4.87"/><circle cx="267.1" cy="562.7" r="4.87"/><circle cx="268.7" cy="562.2" r="4.87"/><circle cx="270.3" cy="561.7" r="4.87"/><circle cx="271.9" cy="561.8" r="4.87"/><circle cx="273.5" cy="561.3" r="4.87"/><circle cx="275.0" cy="561.1" r="4.87"/><circle cx="276.6" cy="560.9" r="4.87"/><circle cx="278.2" cy="560.9" r="4.87"/><circle cx="279.8" cy="560.1" r="4.87"/><circle cx="281.4" cy="560.3" r="4.87"/><circle cx="283.0" cy="559.8" r="4.87"/><circle cx="284.6" cy="559.3" r="4.87"/><circle cx="286.2" cy="559.1" r="4.87"/><circle cx="287.8" cy="558.5" r="4.87"/><circle cx="289.3" cy="558.2" r="4.87"/><circle cx="290.9" cy="556.9" r="4.87"/><circle cx="292.5" cy="556.7" r="4.87"/><circle cx="294.1" cy="556.4" r="4.87"/><circle cx="295.7" cy="555.9" r="4.87"/><circle cx="297.3" cy="555.5" r="4.87"/><circle cx="298.9" cy="555.0" r="4.87"/><circle cx="300.5" cy="554.1" r="4.87"/><circle cx="302.1" cy="554.0" r="4.87"/><circle cx="303.7" cy="553.4" r="4.87"/><circle cx="305.2" cy="553.0" r="4.87"/><circle cx="306.8" cy="552.2" r="4.87"/><circle cx="308.4" cy="552.1" r="4.87"/><circle cx="310.0" cy="551.3" r="4.87"/><circle cx="311.6" cy="550.6" r="4.87"/><circle cx="313.2" cy="550.3" r="4.87"/><circle cx="314.8" cy="549.8" r="4.87"/><circle cx="316.4" cy="548.6" r="4.87"/><circle cx="318.0" cy="547.6" r="4.87"/><circle cx="319.5" cy="546.8" r="4.87"/><circle cx="321.1" cy="546.3" r="4.87"/><circle cx="322.7" cy="545.5" r="4.87"/><circle cx="324.3" cy="543.7" r="4.87"/><circle cx="325.9" cy="542.5" r="4.87"/><circle cx="327.5" cy="541.2" r="4.87"/><circle cx="329.1" cy="540.7" r="4.87"/><circle cx="330.7" cy="540.0" r="4.87"/><circle cx="332.3" cy="538.9" r="4.87"/><circle cx="333.8" cy="536.8" r="4.87"/><circle cx="335.4" cy="535.1" r="4.87"/><circle cx="337.0" cy="534.3" r="4.87"/><circle cx="338.6" cy="533.6" r="4.87"/><circle cx="340.2" cy="532.8" r="4.87"/><circle cx="341.8" cy="531.8" r="4.87"/><circle cx="343.4" cy="530.7" r="4.87"/><circle cx="345.0" cy="530.1" r="4.87"/><circle cx="346.6" cy="529.0" r="4.87"/><circle cx="348.1" cy="527.5" r="4.87"/><circle cx="349.7" cy="527.7" r="4.87"/><circle cx="351.3" cy="526.2" r="4.87"/><circle cx="352.9" cy="526.6" r="4.87"/><circle cx="354.5" cy="525.4" r="4.87"/><circle cx="356.1" cy="525.1" r="4.87"/><circle cx="357.7" cy="523.9" r="4.87"/><circle cx="359.3" cy="522.9" r="4.87"/><circle cx="360.9" cy="523.0" r="4.87"/><circle cx="362.4" cy="522.1" r="4.87"/><circle cx="364.0" cy="522.1" r="4.87"/><circle cx="365.6" cy="521.0" r="4.87"/><circle cx="367.2" cy="520.5" r="4.87"/><circle cx="368.8" cy="520.4" r="4.87"/><circle cx="370.4" cy="519.6" r="4.87"/><circle cx="372.0" cy="519.6" r="4.87"/><circle cx="373.6" cy="519.4" r="4.87"/><circle cx="375.2" cy="519.2" r="4.87"/><circle cx="376.7" cy="518.5" r="4.87"/><circle cx="378.3" cy="517.6" r="4.87"/><circle cx="379.9" cy="517.0" r="4.87"/><circle cx="381.5" cy="516.5" r="4.87"/><circle cx="383.1" cy="516.3" r="4.87"/><circle cx="384.7" cy="515.7" r="4.87"/><circle cx="386.3" cy="515.8" r="4.87"/><circle cx="387.9" cy="514.4" r="4.87"/><circle cx="389.5" cy="513.3" r="4.87"/><circle cx="391.0" cy="513.2" r="4.87"/><circle cx="392.6" cy="512.1" r="4.87"/><circle cx="394.2" cy="510.7" r="4.87"/><circle cx="395.8" cy="510.0" r="4.87"/><circle cx="397.4" cy="510.1" r="4.87"/><circle cx="399.0" cy="508.0" r="4.87"/><circle cx="400.6" cy="505.6" r="4.87"/><circle cx="402.2" cy="503.8" r="4.87"/><circle cx="403.8" cy="502.6" r="4.87"/><circle cx="405.3" cy="500.2" r="4.87"/><circle cx="406.9" cy="499.8" r="4.87"/><circle cx="408.5" cy="498.5" r="4.87"/><circle cx="410.1" cy="497.5" r="4.87"/><circle cx="411.7" cy="495.8" r="4.87"/><circle cx="413.3" cy="493.8" r="4.87"/><circle cx="414.9" cy="493.4" r="4.87"/><circle cx="416.5" cy="493.0" r="4.87"/><circle cx="418.1" cy="492.7" r="4.87"/><circle cx="419.7" cy="492.1" r="4.87"/><circle cx="421.2" cy="491.3" r="4.87"/><circle cx="422.8" cy="490.1" r="4.87"/><circle cx="424.4" cy="489.1" r="4.87"/><circle cx="426.0" cy="488.6" r="4.87"/><circle cx="427.6" cy="488.4" r="4.87"/><circle cx="429.2" cy="487.7" r="4.87"/><circle cx="430.8" cy="487.2" r="4.87"/><circle cx="432.4" cy="486.9" r="4.87"/><circle cx="434.0" cy="485.5" r="4.87"/><circle cx="435.5" cy="484.0" r="4.87"/><circle cx="437.1" cy="482.9" r="4.87"/><circle cx="438.7" cy="482.4" r="4.87"/><circle cx="440.3" cy="481.1" r="4.87"/><circle cx="441.9" cy="480.1" r="4.87"/><circle cx="443.5" cy="478.9" r="4.87"/><circle cx="445.1" cy="477.7" r="4.87"/><circle cx="446.7" cy="475.0" r="4.87"/><circle cx="448.3" cy="474.2" r="4.87"/><circle cx="449.8" cy="472.4" r="4.87"/><circle cx="451.4" cy="471.7" r="4.87"/><circle cx="453.0" cy="471.3" r="4.87"/><circle cx="454.6" cy="469.5" r="4.87"/><circle cx="456.2" cy="468.0" r="4.87"/><circle cx="457.8" cy="466.5" r="4.87"/><circle cx="459.4" cy="464.1" r="4.87"/><circle cx="461.0" cy="463.6" r="4.87"/><circle cx="462.6" cy="462.8" r="4.87"/><circle cx="464.1" cy="461.7" r="4.87"/><circle cx="465.7" cy="460.7" r="4.87"/><circle cx="467.3" cy="458.8" r="4.87"/><circle cx="468.9" cy="457.1" r="4.87"/><circle cx="470.5" cy="455.3" r="4.87"/><circle cx="472.1" cy="454.5" r="4.87"/><circle cx="473.7" cy="453.8" r="4.87"/><circle cx="475.3" cy="452.1" r="4.87"/><circle cx="476.9" cy="451.6" r="4.87"/><circle cx="478.4" cy="448.7" r="4.87"/><circle cx="480.0" cy="447.0" r="4.87"/><circle cx="481.6" cy="445.3" r="4.87"/><circle cx="483.2" cy="443.5" r="4.87"/><circle cx="484.8" cy="442.2" r="4.87"/><circle cx="486.4" cy="440.7" r="4.87"/><circle cx="488.0" cy="439.2" r="4.87"/><circle cx="489.6" cy="437.2" r="4.87"/><circle cx="491.2" cy="432.4" r="4.87"/><circle cx="492.7" cy="431.3" r="4.87"/><circle cx="494.3" cy="429.8" r="4.87"/><circle cx="495.9" cy="426.8" r="4.87"/><circle cx="497.5" cy="426.0" r="4.87"/><circle cx="499.1" cy="424.2" r="4.87"/><circle cx="500.7" cy="420.5" r="4.87"/><circle cx="502.3" cy="419.5" r="4.87"/><circle cx="503.9" cy="416.3" r="4.87"/><circle cx="505.5" cy="415.3" r="4.87"/><circle cx="507.0" cy="415.0" r="4.87"/><circle cx="508.6" cy="413.6" r="4.87"/><circle cx="510.2" cy="411.7" r="4.87"/><circle cx="511.8" cy="408.6" r="4.87"/><circle cx="513.4" cy="406.0" r="4.87"/><circle cx="515.0" cy="404.3" r="4.87"/><circle cx="516.6" cy="401.8" r="4.87"/><circle cx="518.2" cy="399.7" r="4.87"/><circle cx="519.8" cy="399.4" r="4.87"/><circle cx="521.3" cy="395.3" r="4.87"/><circle cx="522.9" cy="393.4" r="4.87"/><circle cx="524.5" cy="388.8" r="4.87"/><circle cx="526.1" cy="387.1" r="4.87"/><circle cx="527.7" cy="386.2" r="4.87"/><circle cx="529.3" cy="383.9" r="4.87"/><circle cx="530.9" cy="383.8" r="4.87"/><circle cx="532.5" cy="380.7" r="4.87"/><circle cx="534.1" cy="378.8" r="4.87"/><circle cx="535.7" cy="375.4" r="4.87"/><circle cx="537.2" cy="372.4" r="4.87"/><circle cx="538.8" cy="370.2" r="4.87"/><circle cx="540.4" cy="368.4" r="4.87"/><circle cx="542.0" cy="366.4" r="4.87"/><circle cx="543.6" cy="363.9" r="4.87"/><circle cx="545.2" cy="359.5" r="4.87"/><circle cx="546.8" cy="358.1" r="4.87"/><circle cx="548.4" cy="355.2" r="4.87"/><circle cx="550.0" cy="353.8" r="4.87"/><circle cx="551.5" cy="352.5" r="4.87"/><circle cx="553.1" cy="349.7" r="4.87"/><circle cx="554.7" cy="345.5" r="4.87"/><circle cx="556.3" cy="341.8" r="4.87"/><circle cx="557.9" cy="340.0" r="4.87"/><circle cx="559.5" cy="336.0" r="4.87"/><circle cx="561.1" cy="335.6" r="4.87"/><circle cx="562.7" cy="334.1" r="4.87"/><circle cx="564.3" cy="332.8" r="4.87"/><circle cx="565.8" cy="331.7" r="4.87"/><circle cx="567.4" cy="330.6" r="4.87"/><circle cx="569.0" cy="328.1" r="4.87"/><circle cx="570.6" cy="320.5" r="4.87"/><circle cx="572.2" cy="319.6" r="4.87"/><circle cx="573.8" cy="318.9" r="4.87"/><circle cx="575.4" cy="317.7" r="4.87"/><circle cx="577.0" cy="316.1" r="4.87"/><circle cx="578.6" cy="314.2" r="4.87"/><circle cx="580.1" cy="311.1" r="4.87"/><circle cx="581.7" cy="308.6" r="4.87"/><circle cx="583.3" cy="307.1" r="4.87"/><circle cx="584.9" cy="305.0" r="4.87"/><circle cx="586.5" cy="304.9" r="4.87"/><circle cx="588.1" cy="302.6" r="4.87"/><circle cx="589.7" cy="301.0" r="4.87"/><circle cx="591.3" cy="298.8" r="4.87"/><circle cx="592.9" cy="298.1" r="4.87"/><circle cx="594.4" cy="296.1" r="4.87"/><circle cx="596.0" cy="294.9" r="4.87"/><circle cx="597.6" cy="293.7" r="4.87"/><circle cx="599.2" cy="291.5" r="4.87"/><circle cx="600.8" cy="290.8" r="4.87"/><circle cx="602.4" cy="288.9" r="4.87"/><circle cx="604.0" cy="288.2" r="4.87"/><circle cx="605.6" cy="287.7" r="4.87"/><circle cx="607.2" cy="286.9" r="4.87"/><circle cx="608.7" cy="286.8" r="4.87"/><circle cx="610.3" cy="285.3" r="4.87"/><circle cx="611.9" cy="284.7" r="4.87"/><circle cx="613.5" cy="282.9" r="4.87"/><circle cx="615.1" cy="282.6" r="4.87"/><circle cx="616.7" cy="281.6" r="4.87"/><circle cx="618.3" cy="281.0" r="4.87"/><circle cx="619.9" cy="280.4" r="4.87"/><circle cx="621.5" cy="279.6" r="4.87"/><circle cx="623.0" cy="278.1" r="4.87"/><circle cx="624.6" cy="277.4" r="4.87"/><circle cx="626.2" cy="276.6" r="4.87"/><circle cx="627.8" cy="275.7" r="4.87"/><circle cx="629.4" cy="275.5" r="4.87"/><circle cx="631.0" cy="275.2" r="4.87"/><circle cx="632.6" cy="274.9" r="4.87"/><circle cx="634.2" cy="273.6" r="4.87"/><circle cx="635.8" cy="273.3" r="4.87"/><circle cx="637.3" cy="272.3" r="4.87"/><circle cx="638.9" cy="271.4" r="4.87"/><circle cx="640.5" cy="270.9" r="4.87"/><circle cx="642.1" cy="270.7" r="4.87"/><circle cx="643.7" cy="270.0" r="4.87"/><circle cx="645.3" cy="269.9" r="4.87"/><circle cx="646.9" cy="269.2" r="4.87"/><circle cx="648.5" cy="268.2" r="4.87"/><circle cx="650.1" cy="268.5" r="4.87"/><circle cx="651.7" cy="267.9" r="4.87"/><circle cx="653.2" cy="267.5" r="4.87"/><circle cx="654.8" cy="266.8" r="4.87"/><circle cx="656.4" cy="266.1" r="4.87"/><circle cx="658.0" cy="266.3" r="4.87"/><circle cx="659.6" cy="265.8" r="4.87"/><circle cx="661.2" cy="265.4" r="4.87"/><circle cx="662.8" cy="265.0" r="4.87"/><circle cx="664.4" cy="264.6" r="4.87"/><circle cx="666.0" cy="264.7" r="4.87"/><circle cx="667.5" cy="263.6" r="4.87"/><circle cx="669.1" cy="262.8" r="4.87"/><circle cx="670.7" cy="262.1" r="4.87"/><circle cx="672.3" cy="261.0" r="4.87"/><circle cx="673.9" cy="260.9" r="4.87"/><circle cx="675.5" cy="259.8" r="4.87"/><circle cx="677.1" cy="259.1" r="4.87"/><circle cx="678.7" cy="258.3" r="4.87"/><circle cx="680.3" cy="257.3" r="4.87"/><circle cx="681.8" cy="256.9" r="4.87"/><circle cx="683.4" cy="256.3" r="4.87"/><circle cx="685.0" cy="256.2" r="4.87"/><circle cx="686.6" cy="255.2" r="4.87"/><circle cx="688.2" cy="254.6" r="4.87"/><circle cx="689.8" cy="253.5" r="4.87"/><circle cx="691.4" cy="251.6" r="4.87"/><circle cx="693.0" cy="251.2" r="4.87"/><circle cx="694.6" cy="249.9" r="4.87"/><circle cx="696.1" cy="249.1" r="4.87"/><circle cx="697.7" cy="248.5" r="4.87"/><circle cx="699.3" cy="247.3" r="4.87"/><circle cx="700.9" cy="245.5" r="4.87"/><circle cx="702.5" cy="243.9" r="4.87"/><circle cx="704.1" cy="242.8" r="4.87"/><circle cx="705.7" cy="240.9" r="4.87"/><circle cx="707.3" cy="240.5" r="4.87"/><circle cx="708.9" cy="239.2" r="4.87"/><circle cx="710.4" cy="237.3" r="4.87"/><circle cx="712.0" cy="234.3" r="4.87"/><circle cx="713.6" cy="231.3" r="4.87"/><circle cx="715.2" cy="228.2" r="4.87"/><circle cx="716.8" cy="226.0" r="4.87"/><circle cx="718.4" cy="223.9" r="4.87"/><circle cx="720.0" cy="219.9" r="4.87"/><circle cx="721.6" cy="219.1" r="4.87"/><circle cx="723.2" cy="213.0" r="4.87"/><circle cx="724.7" cy="209.0" r="4.87"/><circle cx="726.3" cy="206.9" r="4.87"/><circle cx="727.9" cy="204.0" r="4.87"/><circle cx="729.5" cy="201.6" r="4.87"/><circle cx="731.1" cy="198.7" r="4.87"/><circle cx="732.7" cy="194.5" r="4.87"/><circle cx="734.3" cy="190.3" r="4.87"/><circle cx="735.9" cy="188.1" r="4.87"/><circle cx="737.5" cy="185.9" r="4.87"/><circle cx="739.0" cy="182.9" r="4.87"/><circle cx="740.6" cy="181.4" r="4.87"/><circle cx="742.2" cy="179.8" r="4.87"/><circle cx="743.8" cy="178.1" r="4.87"/><circle cx="745.4" cy="174.9" r="4.87"/><circle cx="747.0" cy="173.0" r="4.87"/><circle cx="748.6" cy="170.9" r="4.87"/><circle cx="750.2" cy="170.0" r="4.87"/><circle cx="751.8" cy="168.9" r="4.87"/><circle cx="753.3" cy="168.3" r="4.87"/><circle cx="754.9" cy="168.2" r="4.87"/><circle cx="756.5" cy="165.6" r="4.87"/><circle cx="758.1" cy="164.5" r="4.87"/><circle cx="759.7" cy="163.5" r="4.87"/><circle cx="761.3" cy="163.1" r="4.87"/><circle cx="762.9" cy="162.4" r="4.87"/><circle cx="764.5" cy="161.7" r="4.87"/><circle cx="766.1" cy="161.0" r="4.87"/><circle cx="767.7" cy="160.4" r="4.87"/><circle cx="769.2" cy="158.8" r="4.87"/><circle cx="770.8" cy="158.7" r="4.87"/><circle cx="772.4" cy="158.3" r="4.87"/><circle cx="774.0" cy="157.9" r="4.87"/><circle cx="775.6" cy="157.8" r="4.87"/><circle cx="777.2" cy="157.1" r="4.87"/><circle cx="778.8" cy="156.4" r="4.87"/><circle cx="780.4" cy="156.1" r="4.87"/><circle cx="782.0" cy="156.0" r="4.87"/><circle cx="783.5" cy="155.3" r="4.87"/><circle cx="785.1" cy="155.4" r="4.87"/></g>
<line x1="740" x2="740" y1="568.0" y2="15.5" stroke="#1f77b4" stroke-opacity="0.5" stroke-width="2.08" stroke-dasharray="7.71 3.33"/>
</g>
<g clip-path="url(#c2)">
<path d="M740.0,755.0 L747.5,746.5 L757.0,735.2 L763.8,727.8 L772.0,716.5 L777.5,709.4 L785.5,701.4" stroke="#1f77b4" stroke-width="2.08" fill="none" stroke-linejoin="round"/>
<g fill="#ff7f0e"><circle cx="78.0" cy="1145.2" r="4.87"/><circle cx="79.6" cy="1145.2" r="4.87"/><circle cx="81.2" cy="1145.2" r="4.87"/><circle cx="82.8" cy="1145.2" r="4.87"/><circle cx="84.4" cy="1145.2" r="4.87"/><circle cx="86.0" cy="1145.2" r="4.87"/><circle cx="87.5" cy="1145.3" r="4.87"/><circle cx="89.1" cy="1145.2" r="4.87"/><circle cx="90.7" cy="1145.2" r="4.87"/><circle cx="92.3" cy="1145.2" r="4.87"/><circle cx="93.9" cy="1145.1" r="4.87"/><circle cx="95.5" cy="1145.2" r="4.87"/><circle cx="97.1" cy="1145.2" r="4.87"/><circle cx="98.7" cy="1145.2" r="4.87"/><circle cx="100.3" cy="1145.2" r="4.87"/><circle cx="101.8" cy="1145.2" r="4.87"/><circle cx="103.4" cy="1145.2" r="4.87"/><circle cx="105.0" cy="1145.2" r="4.87"/><circle cx="106.6" cy="1145.2" r="4.87"/><circle cx="108.2" cy="1145.2" r="4.87"/><circle cx="109.8" cy="1145.2" r="4.87"/><circle cx="111.4" cy="1145.2" r="4.87"/><circle cx="113.0" cy="1145.2" r="4.87"/><circle cx="114.6" cy="1145.3" r="4.87"/><circle cx="116.1" cy="1145.0" r="4.87"/><circle cx="117.7" cy="1144.3" r="4.87"/><circle cx="119.3" cy="1144.0" r="4.87"/><circle cx="120.9" cy="1143.8" r="4.87"/><circle cx="122.5" cy="1143.0" r="4.87"/><circle cx="124.1" cy="1142.5" r="4.87"/><circle cx="125.7" cy="1141.8" r="4.87"/><circle cx="127.3" cy="1141.8" r="4.87"/><circle cx="128.9" cy="1141.2" r="4.87"/><circle cx="130.4" cy="1140.9" r="4.87"/><circle cx="132.0" cy="1140.2" r="4.87"/><circle cx="133.6" cy="1139.3" r="4.87"/><circle cx="135.2" cy="1138.9" r="4.87"/><circle cx="136.8" cy="1138.3" r="4.87"/><circle cx="138.4" cy="1137.6" r="4.87"/><circle cx="140.0" cy="1137.1" r="4.87"/><circle cx="141.6" cy="1136.5" r="4.87"/><circle cx="143.2" cy="1136.0" r="4.87"/><circle cx="144.7" cy="1135.2" r="4.87"/><circle cx="146.3" cy="1134.5" r="4.87"/><circle cx="147.9" cy="1133.9" r="4.87"/><circle cx="149.5" cy="1133.6" r="4.87"/><circle cx="151.1" cy="1133.5" r="4.87"/><circle cx="152.7" cy="1133.1" r="4.87"/><circle cx="154.3" cy="1132.7" r="4.87"/><circle cx="155.9" cy="1131.7" r="4.87"/><circle cx="157.5" cy="1131.5" r="4.87"/><circle cx="159.0" cy="1131.2" r="4.87"/><circle cx="160.6" cy="1131.3" r="4.87"/><circle cx="162.2" cy="1130.6" r="4.87"/><circle cx="163.8" cy="1130.5" r="4.87"/><circle cx="165.4" cy="1130.3" r="4.87"/><circle cx="167.0" cy="1129.6" r="4.87"/><circle cx="168.6" cy="1129.1" r="4.87"/><circle cx="170.2" cy="1128.7" r="4.87"/><circle cx="171.8" cy="1128.3" r="4.87"/><circle cx="173.3" cy="1127.7" r="4.87"/><circle cx="174.9" cy="1127.4" r="4.87"/><circle cx="176.5" cy="1127.0" r="4.87"/><circle cx="178.1" cy="1126.5" r="4.87"/><circle cx="179.7" cy="1126.5" r="4.87"/><circle cx="181.3" cy="1126.0" r="4.87"/><circle cx="182.9" cy="1125.2" r="4.87"/><circle cx="184.5" cy="1125.8" r="4.87"/><circle cx="186.1" cy="1125.2" r="4.87"/><circle cx="187.7" cy="1125.0" r="4.87"/><circle cx="189.2" cy="1124.3" r="4.87"/><circle cx="190.8" cy="1124.6" r="4.87"/><circle cx="192.4" cy="1123.8" r="4.87"/><circle cx="194.0" cy="1123.7" r="4.87"/><circle cx="195.6" cy="1123.7" r="4.87"/><circle cx="197.2" cy="1123.6" r="4.87"/><circle cx="198.8" cy="1123.4" r="4.87"/><circle cx="200.4" cy="1123.5" r="4.87"/><circle cx="202.0" cy="1122.7" r="4.87"/><circle cx="203.5" cy="1122.9" r="4.87"/><circle cx="205.1" cy="1122.6" r="4.87"/><circle cx="206.7" cy="1122.8" r="4.87"/><circle cx="208.3" cy="1122.6" r="4.87"/><circle cx="209.9" cy="1122.5" r="4.87"/><circle cx="211.5" cy="1122.4" r="4.87"/><circle cx="213.1" cy="1122.0" r="4.87"/><circle cx="214.7" cy="1121.5" r="4.87"/><circle cx="216.3" cy="1121.6" r="4.87"/><circle cx="217.8" cy="1121.7" r="4.87"/><circle cx="219.4" cy="1121.5" r="4.87"/><circle cx="221.0" cy="1121.4" r="4.87"/><circle cx="222.6" cy="1121.0" r="4.87"/><circle cx="224.2" cy="1120.7" r="4.87"/><circle cx="225.8" cy="1120.8" r="4.87"/><circle cx="227.4" cy="1120.5" r="4.87"/><circle cx="229.0" cy="1120.7" r="4.87"/><circle cx="230.6" cy="1120.2" r="4.87"/><circle cx="232.1" cy="1120.3" r="4.87"/><circle cx="233.7" cy="1120.2" r="4.87"/><circle cx="235.3" cy="1119.9" r="4.87"/><circle cx="236.9" cy="1119.9" r="4.87"/><circle cx="238.5" cy="1119.8" r="4.87"/><circle cx="240.1" cy="1120.0" r="4.87"/><circle cx="241.7" cy="1119.9" r="4.87"/><circle cx="243.3" cy="1119.7" r="4.87"/><circle cx="244.9" cy="1119.6" r="4.87"/><circle cx="246.4" cy="1119.6" r="4.87"/><circle cx="248.0" cy="1119.4" r="4.87"/><circle cx="249.6" cy="1119.4" r="4.87"/><circle cx="251.2" cy="1119.2" r="4.87"/><circle cx="252.8" cy="1119.3" r="4.87"/><circle cx="254.4" cy="1119.1" r="4.87"/><circle cx="256.0" cy="1119.0" r="4.87"/><circle cx="257.6" cy="1119.1" r="4.87"/><circle cx="259.2" cy="1118.8" r="4.87"/><circle cx="260.7" cy="1119.0" r="4.87"/><circle cx="262.3" cy="1118.8" r="4.87"/><circle cx="263.9" cy="1118.8" r="4.87"/><circle cx="265.5" cy="1118.6" r="4.87"/><circle cx="267.1" cy="1118.6" r="4.87"/><circle cx="268.7" cy="1117.9" r="4.87"/><circle cx="270.3" cy="1118.2" r="4.87"/><circle cx="271.9" cy="1117.7" r="4.87"/><circle cx="273.5" cy="1117.4" r="4.87"/><circle cx="275.0" cy="1117.8" r="4.87"/><circle cx="276.6" cy="1117.1" r="4.87"/><circle cx="278.2" cy="1117.0" r="4.87"/><circle cx="279.8" cy="1116.9" r="4.87"/><circle cx="281.4" cy="1116.2" r="4.87"/><circle cx="283.0" cy="1116.2" r="4.87"/><circle cx="284.6" cy="1116.0" r="4.87"/><circle cx="286.2" cy="1116.0" r="4.87"/><circle cx="287.8" cy="1115.4" r="4.87"/><circle cx="289.3" cy="1115.2" r="4.87"/><circle cx="290.9" cy="1114.8" r="4.87"/><circle cx="292.5" cy="1114.0" r="4.87"/><circle cx="294.1" cy="1114.1" r="4.87"/><circle cx="295.7" cy="1113.8" r="4.87"/><circle cx="297.3" cy="1113.3" r="4.87"/><circle cx="298.9" cy="1113.3" r="4.87"/><circle cx="300.5" cy="1112.5" r="4.87"/><circle cx="302.1" cy="1111.4" r="4.87"/><circle cx="303.7" cy="1111.1" r="4.87"/><circle cx="305.2" cy="1110.8" r="4.87"/><circle cx="306.8" cy="1110.0" r="4.87"/><circle cx="308.4" cy="1109.3" r="4.87"/><circle cx="310.0" cy="1108.9" r="4.87"/><circle cx="311.6" cy="1107.8" r="4.87"/><circle cx="313.2" cy="1106.4" r="4.87"/><circle cx="314.8" cy="1105.1" r="4.87"/><circle cx="316.4" cy="1104.4" r="4.87"/><circle cx="318.0" cy="1103.2" r="4.87"/><circle cx="319.5" cy="1103.2" r="4.87"/><circle cx="321.1" cy="1101.8" r="4.87"/><circle cx="322.7" cy="1100.5" r="4.87"/><circle cx="324.3" cy="1099.1" r="4.87"/><circle cx="325.9" cy="1097.5" r="4.87"/><circle cx="327.5" cy="1096.7" r="4.87"/><circle cx="329.1" cy="1095.4" r="4.87"/><circle cx="330.7" cy="1095.0" r="4.87"/><circle cx="332.3" cy="1092.9" r="4.87"/><circle cx="333.8" cy="1091.1" r="4.87"/><circle cx="335.4" cy="1089.5" r="4.87"/><circle cx="337.0" cy="1088.6" r="4.87"/><circle cx="338.6" cy="1086.9" r="4.87"/><circle cx="340.2" cy="1086.8" r="4.87"/><circle cx="341.8" cy="1085.9" r="4.87"/><circle cx="343.4" cy="1084.4" r="4.87"/><circle cx="345.0" cy="1083.1" r="4.87"/><circle cx="346.6" cy="1082.1" r="4.87"/><circle cx="348.1" cy="1080.8" r="4.87"/><circle cx="349.7" cy="1080.0" r="4.87"/><circle cx="351.3" cy="1079.2" r="4.87"/><circle cx="352.9" cy="1078.7" r="4.87"/><circle cx="354.5" cy="1077.8" r="4.87"/><circle cx="356.1" cy="1075.9" r="4.87"/><circle cx="357.7" cy="1075.2" r="4.87"/><circle cx="359.3" cy="1073.2" r="4.87"/><circle cx="360.9" cy="1072.9" r="4.87"/><circle cx="362.4" cy="1071.7" r="4.87"/><circle cx="364.0" cy="1070.9" r="4.87"/><circle cx="365.6" cy="1069.8" r="4.87"/><circle cx="367.2" cy="1067.8" r="4.87"/><circle cx="368.8" cy="1065.8" r="4.87"/><circle cx="370.4" cy="1063.8" r="4.87"/><circle cx="372.0" cy="1063.0" r="4.87"/><circle cx="373.6" cy="1062.1" r="4.87"/><circle cx="375.2" cy="1061.6" r="4.87"/><circle cx="376.7" cy="1059.6" r="4.87"/><circle cx="378.3" cy="1056.7" r="4.87"/><circle cx="379.9" cy="1054.8" r="4.87"/><circle cx="381.5" cy="1052.6" r="4.87"/><circle cx="383.1" cy="1052.2" r="4.87"/><circle cx="384.7" cy="1051.3" r="4.87"/><circle cx="386.3" cy="1048.8" r="4.87"/><circle cx="387.9" cy="1047.8" r="4.87"/><circle cx="389.5" cy="1044.1" r="4.87"/><circle cx="391.0" cy="1042.2" r="4.87"/><circle cx="392.6" cy="1041.8" r="4.87"/><circle cx="394.2" cy="1041.7" r="4.87"/><circle cx="395.8" cy="1040.7" r="4.87"/><circle cx="397.4" cy="1040.0" r="4.87"/><circle cx="399.0" cy="1039.3" r="4.87"/><circle cx="400.6" cy="1037.6" r="4.87"/><circle cx="402.2" cy="1036.1" r="4.87"/><circle cx="403.8" cy="1035.0" r="4.87"/><circle cx="405.3" cy="1033.9" r="4.87"/><circle cx="406.9" cy="1033.7" r="4.87"/><circle cx="408.5" cy="1032.5" r="4.87"/><circle cx="410.1" cy="1032.0" r="4.87"/><circle cx="411.7" cy="1030.0" r="4.87"/><circle cx="413.3" cy="1028.0" r="4.87"/><circle cx="414.9" cy="1027.0" r="4.87"/><circle cx="416.5" cy="1026.5" r="4.87"/><circle cx="418.1" cy="1026.4" r="4.87"/><circle cx="419.7" cy="1025.6" r="4.87"/><circle cx="421.2" cy="1024.4" r="4.87"/><circle cx="422.8" cy="1023.6" r="4.87"/><circle cx="424.4" cy="1022.1" r="4.87"/><circle cx="426.0" cy="1021.3" r="4.87"/><circle cx="427.6" cy="1020.5" r="4.87"/><circle cx="429.2" cy="1019.8" r="4.87"/><circle cx="430.8" cy="1019.3" r="4.87"/><circle cx="432.4" cy="1018.5" r="4.87"/><circle cx="434.0" cy="1017.2" r="4.87"/><circle cx="435.5" cy="1015.9" r="4.87"/><circle cx="437.1" cy="1014.8" r="4.87"/><circle cx="438.7" cy="1014.9" r="4.87"/><circle cx="440.3" cy="1014.4" r="4.87"/><circle cx="441.9" cy="1013.6" r="4.87"/><circle cx="443.5" cy="1012.5" r="4.87"/><circle cx="445.1" cy="1011.3" r="4.87"/><circle cx="446.7" cy="1009.9" r="4.87"/><circle cx="448.3" cy="1009.5" r="4.87"/><circle cx="449.8" cy="1008.6" r="4.87"/><circle cx="451.4" cy="1008.4" r="4.87"/><circle cx="453.0" cy="1007.6" r="4.87"/><circle cx="454.6" cy="1005.4" r="4.87"/><circle cx="456.2" cy="1004.0" r="4.87"/><circle cx="457.8" cy="1003.2" r="4.87"/><circle cx="459.4" cy="1002.3" r="4.87"/><circle cx="461.0" cy="1001.5" r="4.87"/><circle cx="462.6" cy="1000.2" r="4.87"/><circle cx="464.1" cy="1000.0" r="4.87"/><circle cx="465.7" cy="999.3" r="4.87"/><circle cx="467.3" cy="998.0" r="4.87"/><circle cx="468.9" cy="996.1" r="4.87"/><circle cx="470.5" cy="995.0" r="4.87"/><circle cx="472.1" cy="994.4" r="4.87"/><circle cx="473.7" cy="993.1" r="4.87"/><circle cx="475.3" cy="992.3" r="4.87"/><circle cx="476.9" cy="991.0" r="4.87"/><circle cx="478.4" cy="989.9" r="4.87"/><circle cx="480.0" cy="988.3" r="4.87"/><circle cx="481.6" cy="985.7" r="4.87"/><circle cx="483.2" cy="984.4" r="4.87"/><circle cx="484.8" cy="982.5" r="4.87"/><circle cx="486.4" cy="980.7" r="4.87"/><circle cx="488.0" cy="979.1" r="4.87"/><circle cx="489.6" cy="975.6" r="4.87"/><circle cx="491.2" cy="973.4" r="4.87"/><circle cx="492.7" cy="971.3" r="4.87"/><circle cx="494.3" cy="968.9" r="4.87"/><circle cx="495.9" cy="967.6" r="4.87"/><circle cx="497.5" cy="965.5" r="4.87"/><circle cx="499.1" cy="962.8" r="4.87"/><circle cx="500.7" cy="959.3" r="4.87"/><circle cx="502.3" cy="956.9" r="4.87"/><circle cx="503.9" cy="953.9" r="4.87"/><circle cx="505.5" cy="952.8" r="4.87"/><circle cx="507.0" cy="950.3" r="4.87"/><circle cx="508.6" cy="949.4" r="4.87"/><circle cx="510.2" cy="946.4" r="4.87"/><circle cx="511.8" cy="941.7" r="4.87"/><circle cx="513.4" cy="940.3" r="4.87"/><circle cx="515.0" cy="937.3" r="4.87"/><circle cx="516.6" cy="934.5" r="4.87"/><circle cx="518.2" cy="932.9" r="4.87"/><circle cx="519.8" cy="931.6" r="4.87"/><circle cx="521.3" cy="928.9" r="4.87"/><circle cx="522.9" cy="927.2" r="4.87"/><circle cx="524.5" cy="924.0" r="4.87"/><circle cx="526.1" cy="921.3" r="4.87"/><circle cx="527.7" cy="920.2" r="4.87"/><circle cx="529.3" cy="918.0" r="4.87"/><circle cx="530.9" cy="916.2" r="4.87"/><circle cx="532.5" cy="914.3" r="4.87"/><circle cx="534.1" cy="911.0" r="4.87"/><circle cx="535.7" cy="909.0" r="4.87"/><circle cx="537.2" cy="905.4" r="4.87"/><circle cx="538.8" cy="902.9" r="4.87"/><circle cx="540.4" cy="902.0" r="4.87"/><circle cx="542.0" cy="901.1" r="4.87"/><circle cx="543.6" cy="898.5" r="4.87"/><circle cx="545.2" cy="897.0" r="4.87"/><circle cx="546.8" cy="894.6" r="4.87"/><circle cx="548.4" cy="892.3" r="4.87"/><circle cx="550.0" cy="890.2" r="4.87"/><circle cx="551.5" cy="889.8" r="4.87"/><circle cx="553.1" cy="887.5" r="4.87"/><circle cx="554.7" cy="886.9" r="4.87"/><circle cx="556.3" cy="882.9" r="4.87"/><circle cx="557.9" cy="880.6" r="4.87"/><circle cx="559.5" cy="879.0" r="4.87"/><circle cx="561.1" cy="876.1" r="4.87"/><circle cx="562.7" cy="874.8" r="4.87"/><circle cx="564.3" cy="873.7" r="4.87"/><circle cx="565.8" cy="871.0" r="4.87"/><circle cx="567.4" cy="868.4" r="4.87"/><circle cx="569.0" cy="865.4" r="4.87"/><circle cx="570.6" cy="863.7" r="4.87"/><circle cx="572.2" cy="860.8" r="4.87"/><circle cx="573.8" cy="860.0" r="4.87"/><circle cx="575.4" cy="858.7" r="4.87"/><circle cx="577.0" cy="854.7" r="4.87"/><circle cx="578.6" cy="852.6" r="4.87"/><circle cx="580.1" cy="849.5" r="4.87"/><circle cx="581.7" cy="847.8" r="4.87"/><circle cx="583.3" cy="847.0" r="4.87"/><circle cx="584.9" cy="847.3" r="4.87"/><circle cx="586.5" cy="847.0" r="4.87"/><circle cx="588.1" cy="846.5" r="4.87"/><circle cx="589.7" cy="844.0" r="4.87"/><circle cx="591.3" cy="839.4" r="4.87"/><circle cx="592.9" cy="837.0" r="4.87"/><circle cx="594.4" cy="836.0" r="4.87"/><circle cx="596.0" cy="835.5" r="4.87"/><circle cx="597.6" cy="834.9" r="4.87"/><circle cx="599.2" cy="833.3" r="4.87"/><circle cx="600.8" cy="831.7" r="4.87"/><circle cx="602.4" cy="830.0" r="4.87"/><circle cx="604.0" cy="827.9" r="4.87"/><circle cx="605.6" cy="827.1" r="4.87"/><circle cx="607.2" cy="825.8" r="4.87"/><circle cx="608.7" cy="824.0" r="4.87"/><circle cx="610.3" cy="822.8" r="4.87"/><circle cx="611.9" cy="821.0" r="4.87"/><circle cx="613.5" cy="819.2" r="4.87"/><circle cx="615.1" cy="817.3" r="4.87"/><circle cx="616.7" cy="816.4" r="4.87"/><circle cx="618.3" cy="816.7" r="4.87"/><circle cx="619.9" cy="815.6" r="4.87"/><circle cx="621.5" cy="814.1" r="4.87"/><circle cx="623.0" cy="812.6" r="4.87"/><circle cx="624.6" cy="812.0" r="4.87"/><circle cx="626.2" cy="811.1" r="4.87"/><circle cx="627.8" cy="810.5" r="4.87"/><circle cx="629.4" cy="810.0" r="4.87"/><circle cx="631.0" cy="809.5" r="4.87"/><circle cx="632.6" cy="809.2" r="4.87"/><circle cx="634.2" cy="808.2" r="4.87"/><circle cx="635.8" cy="805.7" r="4.87"/><circle cx="637.3" cy="804.4" r="4.87"/><circle cx="638.9" cy="802.9" r="4.87"/><circle cx="640.5" cy="802.6" r="4.87"/><circle cx="642.1" cy="801.8" r="4.87"/><circle cx="643.7" cy="800.1" r="4.87"/><circle cx="645.3" cy="799.0" r="4.87"/><circle cx="646.9" cy="797.6" r="4.87"/><circle cx="648.5" cy="795.6" r="4.87"/><circle cx="650.1" cy="795.5" r="4.87"/><circle cx="651.7" cy="794.2" r="4.87"/><circle cx="653.2" cy="794.0" r="4.87"/><circle cx="654.8" cy="793.1" r="4.87"/><circle cx="656.4" cy="792.3" r="4.87"/><circle cx="658.0" cy="791.6" r="4.87"/><circle cx="659.6" cy="790.7" r="4.87"/><circle cx="661.2" cy="790.1" r="4.87"/><circle cx="662.8" cy="789.6" r="4.87"/><circle cx="664.4" cy="789.2" r="4.87"/><circle cx="666.0" cy="789.0" r="4.87"/><circle cx="667.5" cy="788.1" r="4.87"/><circle cx="669.1" cy="787.0" r="4.87"/><circle cx="670.7" cy="786.6" r="4.87"/><circle cx="672.3" cy="786.7" r="4.87"/><circle cx="673.9" cy="786.5" r="4.87"/><circle cx="675.5" cy="786.2" r="4.87"/><circle cx="677.1" cy="785.4" r="4.87"/><circle cx="678.7" cy="785.0" r="4.87"/><circle cx="680.3" cy="784.6" r="4.87"/><circle cx="681.8" cy="783.9" r="4.87"/><circle cx="683.4" cy="783.9" r="4.87"/><circle cx="685.0" cy="784.0" r="4.87"/><circle cx="686.6" cy="783.4" r="4.87"/><circle cx="688.2" cy="783.3" r="4.87"/><circle cx="689.8" cy="783.1" r="4.87"/><circle cx="691.4" cy="782.6" r="4.87"/><circle cx="693.0" cy="782.0" r="4.87"/><circle cx="694.6" cy="782.1" r="4.87"/><circle cx="696.1" cy="782.0" r="4.87"/><circle cx="697.7" cy="781.5" r="4.87"/><circle cx="699.3" cy="781.1" r="4.87"/><circle cx="700.9" cy="780.5" r="4.87"/><circle cx="702.5" cy="780.5" r="4.87"/><circle cx="704.1" cy="779.8" r="4.87"/><circle cx="705.7" cy="779.4" r="4.87"/><circle cx="707.3" cy="779.3" r="4.87"/><circle cx="708.9" cy="778.2" r="4.87"/><circle cx="710.4" cy="777.8" r="4.87"/><circle cx="712.0" cy="776.8" r="4.87"/><circle cx="713.6" cy="775.7" r="4.87"/><circle cx="715.2" cy="774.9" r="4.87"/><circle cx="716.8" cy="774.5" r="4.87"/><circle cx="718.4" cy="773.4" r="4.87"/><circle cx="720.0" cy="772.7" r="4.87"/><circle cx="721.6" cy="771.8" r="4.87"/><circle cx="723.2" cy="770.4" r="4.87"/><circle cx="724.7" cy="769.4" r="4.87"/><circle cx="726.3" cy="767.5" r="4.87"/><circle cx="727.9" cy="766.0" r="4.87"/><circle cx="729.5" cy="765.7" r="4.87"/><circle cx="731.1" cy="764.6" r="4.87"/><circle cx="732.7" cy="761.4" r="4.87"/><circle cx="734.3" cy="758.5" r="4.87"/><circle cx="735.9" cy="756.1" r="4.87"/><circle cx="737.5" cy="755.0" r="4.87"/><circle cx="739.0" cy="755.1" r="4.87"/><circle cx="740.6" cy="754.1" r="4.87"/><circle cx="742.2" cy="753.3" r="4.87"/><circle cx="743.8" cy="752.0" r="4.87"/><circle cx="745.4" cy="750.2" r="4.87"/><circle cx="747.0" cy="749.1" r="4.87"/><circle cx="748.6" cy="746.9" r="4.87"/><circle cx="750.2" cy="746.1" r="4.87"/><circle cx="751.8" cy="745.5" r="4.87"/><circle cx="753.3" cy="745.1" r="4.87"/><circle cx="754.9" cy="743.8" r="4.87"/><circle cx="756.5" cy="741.4" r="4.87"/><circle cx="758.1" cy="740.0" r="4.87"/><circle cx="759.7" cy="738.5" r="4.87"/><circle cx="761.3" cy="737.8" r="4.87"/><circle cx="762.9" cy="736.5" r="4.87"/><circle cx="764.5" cy="735.6" r="4.87"/><circle cx="766.1" cy="733.2" r="4.87"/><circle cx="767.7" cy="732.4" r="4.87"/><circle cx="769.2" cy="730.3" r="4.87"/><circle cx="770.8" cy="729.1" r="4.87"/><circle cx="772.4" cy="727.4" r="4.87"/><circle cx="774.0" cy="726.4" r="4.87"/><circle cx="775.6" cy="725.8" r="4.87"/><circle cx="777.2" cy="724.7" r="4.87"/><circle cx="778.8" cy="723.9" r="4.87"/><circle cx="780.4" cy="722.5" r="4.87"/><circle cx="782.0" cy="722.5" r="4.87"/><circle cx="783.5" cy="722.2" r="4.87"/><circle cx="785.1" cy="721.3" r="4.87"/></g>
<line x1="740" x2="740" y1="1144.65" y2="592.5" stroke="#1f77b4" stroke-opacity="0.5" stroke-width="2.08" stroke-dasharray="7.71 3.33"/>
</g>
<rect x="77.5" y="15.5" width="708.0" height="553.0" fill="none" stroke="#000" stroke-width="1.11"/>
<rect x="77.5" y="592.5" width="708.0" height="553.0" fill="none" stroke="#000" stroke-width="1.11"/>
<line x1="122.50" x2="122.50" y1="568.5" y2="573.76" stroke="#000" stroke-width="1.11"/>
<line x1="170.50" x2="170.50" y1="568.5" y2="571.68" stroke="#000" stroke-width="1.11"/>
<line x1="219.50" x2="219.50" y1="568.5" y2="571.68" stroke="#000" stroke-width="1.11"/>
<line x1="267.50" x2="267.50" y1="568.5" y2="573.76" stroke="#000" stroke-width="1.11"/>
<line x1="316.50" x2="316.50" y1="568.5" y2="571.68" stroke="#000" stroke-width="1.11"/>
<line x1="365.50" x2="365.50" y1="568.5" y2="571.68" stroke="#000" stroke-width="1.11"/>
<line x1="413.50" x2="413.50" y1="568.5" y2="573.76" stroke="#000" stroke-width="1.11"/>
<line x1="462.50" x2="462.50" y1="568.5" y2="571.68" stroke="#000" stroke-width="1.11"/>
<line x1="510.50" x2="510.50" y1="568.5" y2="571.68" stroke="#000" stroke-width="1.11"/>
<line x1="559.50" x2="559.50" y1="568.5" y2="573.76" stroke="#000" stroke-width="1.11"/>
<line x1="608.50" x2="608.50" y1="568.5" y2="571.68" stroke="#000" stroke-width="1.11"/>
<line x1="653.50" x2="653.50" y1="568.5" y2="571.68" stroke="#000" stroke-width="1.11"/>
<line x1="702.50" x2="702.50" y1="568.5" y2="573.76" stroke="#000" stroke-width="1.11"/>
<line x1="750.50" x2="750.50" y1="568.5" y2="571.68" stroke="#000" stroke-width="1.11"/>
<line x1="77.50" x2="77.50" y1="568.5" y2="573.76" stroke="#000" stroke-width="1.11"/>
<line x1="785.50" x2="785.50" y1="568.5" y2="573.76" stroke="#000" stroke-width="1.11"/>
<line x1="122.50" x2="122.50" y1="1145.5" y2="1150.76" stroke="#000" stroke-width="1.11"/>
<line x1="170.50" x2="170.50" y1="1145.5" y2="1148.68" stroke="#000" stroke-width="1.11"/>
<line x1="219.50" x2="219.50" y1="1145.5" y2="1148.68" stroke="#000" stroke-width="1.11"/>
<line x1="267.50" x2="267.50" y1="1145.5" y2="1150.76" stroke="#000" stroke-width="1.11"/>
<line x1="316.50" x2="316.50" y1="1145.5" y2="1148.68" stroke="#000" stroke-width="1.11"/>
<line x1="365.50" x2="365.50" y1="1145.5" y2="1148.68" stroke="#000" stroke-width="1.11"/>
<line x1="413.50" x2="413.50" y1="1145.5" y2="1150.76" stroke="#000" stroke-width="1.11"/>
<line x1="462.50" x2="462.50" y1="1145.5" y2="1148.68" stroke="#000" stroke-width="1.11"/>
<line x1="510.50" x2="510.50" y1="1145.5" y2="1148.68" stroke="#000" stroke-width="1.11"/>
<line x1="559.50" x2="559.50" y1="1145.5" y2="1150.76" stroke="#000" stroke-width="1.11"/>
<line x1="608.50" x2="608.50" y1="1145.5" y2="1148.68" stroke="#000" stroke-width="1.11"/>
<line x1="653.50" x2="653.50" y1="1145.5" y2="1148.68" stroke="#000" stroke-width="1.11"/>
<line x1="702.50" x2="702.50" y1="1145.5" y2="1150.76" stroke="#000" stroke-width="1.11"/>
<line x1="750.50" x2="750.50" y1="1145.5" y2="1148.68" stroke="#000" stroke-width="1.11"/>
<line x1="77.50" x2="77.50" y1="1145.5" y2="1150.76" stroke="#000" stroke-width="1.11"/>
<line x1="785.50" x2="785.50" y1="1145.5" y2="1150.76" stroke="#000" stroke-width="1.11"/>
<line x1="72.64" x2="77.5" y1="568.50" y2="568.50" stroke="#000" stroke-width="1.11"/>
<line x1="72.64" x2="77.5" y1="493.50" y2="493.50" stroke="#000" stroke-width="1.11"/>
<line x1="72.64" x2="77.5" y1="418.50" y2="418.50" stroke="#000" stroke-width="1.11"/>
<line x1="72.64" x2="77.5" y1="344.50" y2="344.50" stroke="#000" stroke-width="1.11"/>
<line x1="72.64" x2="77.5" y1="269.50" y2="269.50" stroke="#000" stroke-width="1.11"/>
<line x1="72.64" x2="77.5" y1="194.50" y2="194.50" stroke="#000" stroke-width="1.11"/>
<line x1="72.64" x2="77.5" y1="119.50" y2="119.50" stroke="#000" stroke-width="1.11"/>
<line x1="72.64" x2="77.5" y1="44.50" y2="44.50" stroke="#000" stroke-width="1.11"/>
<line x1="72.64" x2="77.5" y1="1145.50" y2="1145.50" stroke="#000" stroke-width="1.11"/>
<line x1="72.64" x2="77.5" y1="1059.50" y2="1059.50" stroke="#000" stroke-width="1.11"/>
<line x1="72.64" x2="77.5" y1="973.50" y2="973.50" stroke="#000" stroke-width="1.11"/>
<line x1="72.64" x2="77.5" y1="887.50" y2="887.50" stroke="#000" stroke-width="1.11"/>
<line x1="72.64" x2="77.5" y1="802.50" y2="802.50" stroke="#000" stroke-width="1.11"/>
<line x1="72.64" x2="77.5" y1="716.50" y2="716.50" stroke="#000" stroke-width="1.11"/>
<line x1="72.64" x2="77.5" y1="630.50" y2="630.50" stroke="#000" stroke-width="1.11"/>
<rect x="84.2" y="22.2" width="121.7" height="25.05" rx="2.8" fill="#fff" fill-opacity="0.8" stroke="#ccc" stroke-opacity="0.8" stroke-width="1.11"/>
<line x1="89.1" x2="118.9" y1="33.8" y2="33.8" stroke="#1f77b4" stroke-width="2.08"/>
<rect x="84.2" y="599.3" width="98.2" height="25.2" rx="2.8" fill="#fff" fill-opacity="0.8" stroke="#ccc" stroke-opacity="0.8" stroke-width="1.11"/>
<line x1="89.1" x2="118.9" y1="609.8" y2="609.8" stroke="#1f77b4" stroke-width="2.08"/>
<g filter="url(#gs)" stroke="#000" stroke-width="0.25">
<text x="67.7" y="573.60" text-anchor="end" textLength="7.4" lengthAdjust="spacing">0</text>
<text x="67.7" y="498.60" text-anchor="end" textLength="42.8" lengthAdjust="spacing">25000</text>
<text x="67.7" y="423.60" text-anchor="end" textLength="42.8" lengthAdjust="spacing">50000</text>
<text x="67.7" y="349.60" text-anchor="end" textLength="42.8" lengthAdjust="spacing">75000</text>
<text x="67.7" y="274.60" text-anchor="end" textLength="51.6" lengthAdjust="spacing">100000</text>
<text x="67.7" y="199.60" text-anchor="end" textLength="51.6" lengthAdjust="spacing">125000</text>
<text x="67.7" y="124.60" text-anchor="end" textLength="51.6" lengthAdjust="spacing">150000</text>
<text x="67.7" y="49.60" text-anchor="end" textLength="51.6" lengthAdjust="spacing">175000</text>
<text x="67.7" y="1150.60" text-anchor="end" textLength="7.4" lengthAdjust="spacing">0</text>
<text x="67.7" y="1064.60" text-anchor="end" textLength="25.1" lengthAdjust="spacing">500</text>
<text x="67.7" y="978.60" text-anchor="end" textLength="34.0" lengthAdjust="spacing">1000</text>
<text x="67.7" y="892.60" text-anchor="end" textLength="34.0" lengthAdjust="spacing">1500</text>
<text x="67.7" y="807.60" text-anchor="end" textLength="34.0" lengthAdjust="spacing">2000</text>
<text x="67.7" y="721.60" text-anchor="end" textLength="34.0" lengthAdjust="spacing">2500</text>
<text x="67.7" y="635.60" text-anchor="end" textLength="34.0" lengthAdjust="spacing">3000</text>
<text x="111.25" y="1166.4" textLength="22.5" lengthAdjust="spacing">Apr</text>
<text x="259.35" y="1166.4" textLength="15.5" lengthAdjust="spacing">Jul</text>
<text x="401.04" y="1166.4" textLength="24.5" lengthAdjust="spacing">Oct</text>
<text x="549.59" y="1166.4" textLength="19.8" lengthAdjust="spacing">Jan</text>
<text x="691.25" y="1166.4" textLength="22.5" lengthAdjust="spacing">Apr</text>
<text x="542.49" y="1182" textLength="34" lengthAdjust="spacing">2021</text>
<text x="130.6" y="37.6" textLength="67.9" lengthAdjust="spacing">confirmed</text>
<text x="130.6" y="613.6" textLength="45.2" lengthAdjust="spacing">deaths</text>
<text x="314.5" y="36.4" font-size="17.2" textLength="165.8" lengthAdjust="spacing">Puerto Rico 28 days</text>
</g>
</svg></body></html>
